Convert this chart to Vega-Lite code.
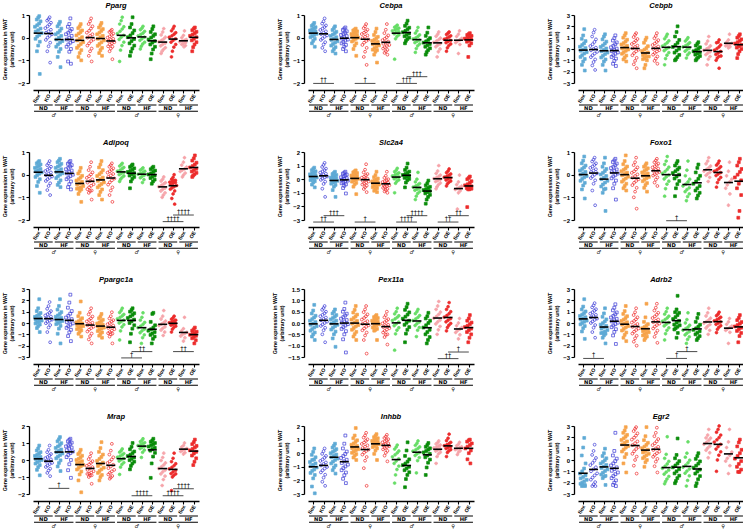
{
  "$schema": "https://vega.github.io/schema/vega-lite/v6.json",
  "background": "white",
  "padding": {"left": 2, "top": 1, "right": 2, "bottom": 0},
  "config": {
    "view": {"stroke": null},
    "font": "Liberation Sans",
    "title": {"font": "Liberation Sans", "fontSize": 7.5, "fontStyle": "italic", "fontWeight": "bold", "offset": 3, "color": "#000"},
    "axis": {"grid": false, "domainColor": "#000", "tickColor": "#000", "labelColor": "#000", "titleColor": "#000", "domainWidth": 1.3, "tickWidth": 1.1, "tickSize": 3, "labelFont": "Liberation Sans", "titleFont": "Liberation Sans", "labelFontWeight": "bold", "titleFontWeight": "bold"},
    "axisX": {"offset": 7, "labelAngle": -60, "labelAlign": "right", "labelBaseline": "middle", "labelFontSize": 5.2, "labelPadding": 1, "labelOverlap": false, "labelFlush": false, "domainWidth": 1.5},
    "axisY": {"offset": 4, "labelFontSize": 6, "labelPadding": 1.5, "titleFontSize": 5.3, "titlePadding": 3, "labelOverlap": false},
    "point": {"size": 8, "strokeWidth": 0.7, "opacity": 1},
    "tick": {"orient": "horizontal", "color": "#000", "size": 9, "thickness": 1.6},
    "rule": {"color": "#5a5a5a", "strokeWidth": 1.1},
    "text": {"font": "DejaVu Sans", "fontSize": 6.5, "baseline": "bottom", "color": "#000"}
  },
  "datasets": {
    "expr": [
      {"p": "Pparg", "g": 1, "v": [0.95,0.88,0.8,0.72,0.62,0.55,0.48,0.4,0.33,0.27,0.2,0.12,0.05,-0.05,-0.18,-0.35,-0.6,-1.6]},
      {"p": "Pparg", "g": 2, "v": [0.9,0.82,0.75,0.66,0.58,0.5,0.42,0.35,0.28,0.22,0.15,0.08,0.0,-0.1,-0.22,-0.38,-0.6,-1.1]},
      {"p": "Pparg", "g": 3, "v": [0.7,0.6,0.5,0.4,0.3,0.22,0.15,0.08,0.0,-0.08,-0.15,-0.22,-0.3,-0.4,-0.5,-0.62,-0.85,-1.3]},
      {"p": "Pparg", "g": 4, "v": [0.85,0.6,0.48,0.38,0.3,0.22,0.15,0.08,0.0,-0.08,-0.15,-0.22,-0.3,-0.4,-0.5,-0.62,-1.05,-1.15]},
      {"p": "Pparg", "g": 5, "v": [0.6,0.5,0.42,0.32,0.25,0.18,0.1,0.02,-0.05,-0.12,-0.2,-0.28,-0.36,-0.45,-0.55,-0.68,-0.85,-1.0]},
      {"p": "Pparg", "g": 6, "v": [0.85,0.72,0.6,0.5,0.4,0.3,0.22,0.15,0.08,0.0,-0.08,-0.15,-0.25,-0.35,-0.48,-0.6,-0.8,-1.05]},
      {"p": "Pparg", "g": 7, "v": [0.65,0.55,0.45,0.38,0.3,0.22,0.15,0.08,0.02,-0.05,-0.12,-0.2,-0.28,-0.36,-0.45,-0.55,-0.68,-0.8]},
      {"p": "Pparg", "g": 8, "v": [0.35,0.3,0.25,0.18,0.12,0.06,0.0,-0.05,-0.1,-0.15,-0.2,-0.25,-0.3,-0.38,-0.4,-0.48,-0.6,-0.95]},
      {"p": "Pparg", "g": 9, "v": [0.9,0.75,0.6,0.48,0.38,0.28,0.18,0.1,0.02,-0.08,-0.2,-0.35,-0.55,-1.05]},
      {"p": "Pparg", "g": 10, "v": [0.9,0.6,0.45,0.32,0.2,0.1,0.02,-0.06,-0.15,-0.25,-0.35,-0.48,-0.62,-0.8]},
      {"p": "Pparg", "g": 11, "v": [0.5,0.42,0.35,0.28,0.2,0.14,0.08,0.02,-0.05,-0.12,-0.2,-0.28,-0.38,-0.5]},
      {"p": "Pparg", "g": 12, "v": [0.5,0.38,0.25,0.15,0.08,0.0,-0.08,-0.15,-0.22,-0.3,-0.4,-0.52,-0.7,-0.95]},
      {"p": "Pparg", "g": 13, "v": [0.4,0.25,0.12,0.02,-0.06,-0.12,-0.18,-0.24,-0.3,-0.36,-0.44,-0.52,-0.6,-0.7]},
      {"p": "Pparg", "g": 14, "v": [0.5,0.4,0.3,0.22,0.15,0.08,0.02,-0.05,-0.12,-0.2,-0.3,-0.42,-0.6,-0.85]},
      {"p": "Pparg", "g": 15, "v": [0.3,0.1,0.0,-0.08,-0.12,-0.15,-0.18,-0.22,-0.26,-0.3,-0.35,-0.4]},
      {"p": "Pparg", "g": 16, "v": [0.45,0.4,0.33,0.26,0.2,0.14,0.08,0.02,-0.05,-0.12,-0.2,-0.3,-0.42,-0.6]},
      {"p": "Cebpa", "g": 1, "v": [0.65,0.58,0.52,0.46,0.41,0.36,0.32,0.28,0.25,0.21,0.17,0.12,0.07,0.02,-0.05,-0.14,-0.25,-0.4]},
      {"p": "Cebpa", "g": 2, "v": [0.85,0.72,0.62,0.54,0.47,0.4,0.34,0.28,0.22,0.16,0.1,0.04,-0.03,-0.1,-0.2,-0.3,-0.45,-0.6]},
      {"p": "Cebpa", "g": 3, "v": [0.5,0.42,0.34,0.26,0.2,0.14,0.08,0.02,-0.04,-0.1,-0.16,-0.22,-0.28,-0.35,-0.42,-0.5,-0.6,-0.7]},
      {"p": "Cebpa", "g": 4, "v": [0.45,0.4,0.34,0.28,0.22,0.17,0.12,0.07,0.02,-0.03,-0.08,-0.13,-0.19,-0.25,-0.32,-0.4,-0.5,-0.6]},
      {"p": "Cebpa", "g": 5, "v": [0.4,0.36,0.32,0.28,0.24,0.2,0.16,0.12,0.08,0.04,0.0,-0.05,-0.1,-0.17,-0.25,-0.35,-0.5,-0.8]},
      {"p": "Cebpa", "g": 6, "v": [0.6,0.5,0.42,0.35,0.28,0.22,0.16,0.1,0.04,-0.02,-0.08,-0.15,-0.22,-0.32,-0.45,-0.62,-0.85,-1.2]},
      {"p": "Cebpa", "g": 7, "v": [0.4,0.25,0.12,0.04,-0.03,-0.09,-0.14,-0.19,-0.24,-0.29,-0.34,-0.4,-0.46,-0.53,-0.55,-0.62,-0.75,-1.1]},
      {"p": "Cebpa", "g": 8, "v": [0.6,0.35,0.2,0.1,0.02,-0.05,-0.11,-0.17,-0.22,-0.27,-0.32,-0.37,-0.42,-0.48,-0.54,-0.6,-0.67,-0.75]},
      {"p": "Cebpa", "g": 9, "v": [0.55,0.5,0.46,0.42,0.38,0.34,0.3,0.26,0.22,0.17,0.12,0.05,-0.05,-0.95]},
      {"p": "Cebpa", "g": 10, "v": [0.75,0.62,0.52,0.44,0.37,0.3,0.24,0.18,0.12,0.06,0.0,-0.06,-0.14,-0.25]},
      {"p": "Cebpa", "g": 11, "v": [0.45,0.3,0.2,0.12,0.05,-0.01,-0.06,-0.11,-0.16,-0.22,-0.28,-0.36,-0.48,-0.65]},
      {"p": "Cebpa", "g": 12, "v": [0.45,0.22,0.08,-0.02,-0.1,-0.16,-0.22,-0.28,-0.34,-0.4,-0.47,-0.55,-0.64,-0.75]},
      {"p": "Cebpa", "g": 13, "v": [0.25,0.15,0.06,-0.02,-0.09,-0.15,-0.21,-0.27,-0.33,-0.4,-0.5,-0.62,-0.85]},
      {"p": "Cebpa", "g": 14, "v": [0.25,0.2,0.14,0.08,0.03,-0.02,-0.07,-0.12,-0.17,-0.22,-0.28,-0.35,-0.45,-0.6]},
      {"p": "Cebpa", "g": 15, "v": [0.3,0.15,0.05,-0.03,-0.1,-0.16,-0.22,-0.3,-0.7]},
      {"p": "Cebpa", "g": 16, "v": [0.2,0.16,0.12,0.08,0.04,0.0,-0.04,-0.08,-0.13,-0.18,-0.25,-0.35,-0.85]},
      {"p": "Cebpb", "g": 1, "v": [1.75,1.2,0.9,0.7,0.5,0.35,0.2,0.08,-0.05,-0.15,-0.28,-0.4,-0.55,-0.7,-0.88,-1.1,-1.4,-1.9]},
      {"p": "Cebpb", "g": 2, "v": [1.7,1.45,1.1,0.85,0.62,0.42,0.26,0.12,0.0,-0.12,-0.25,-0.4,-0.55,-0.72,-0.92,-1.15,-1.45,-1.85]},
      {"p": "Cebpb", "g": 3, "v": [1.3,1.1,0.85,0.65,0.48,0.32,0.18,0.05,-0.08,-0.2,-0.32,-0.45,-0.6,-0.75,-0.92,-1.1,-1.4,-1.9]},
      {"p": "Cebpb", "g": 4, "v": [1.2,0.95,0.75,0.58,0.42,0.28,0.15,0.03,-0.08,-0.18,-0.3,-0.42,-0.55,-0.7,-0.85,-1.05,-1.3,-1.5]},
      {"p": "Cebpb", "g": 5, "v": [1.4,1.2,1.0,0.82,0.66,0.52,0.4,0.28,0.16,0.05,-0.05,-0.16,-0.28,-0.42,-0.58,-0.75,-0.92,-1.1]},
      {"p": "Cebpb", "g": 6, "v": [1.4,1.25,1.05,0.88,0.72,0.58,0.44,0.3,0.18,0.06,-0.06,-0.2,-0.36,-0.55,-0.78,-1.05,-1.35,-1.7]},
      {"p": "Cebpb", "g": 7, "v": [1.0,0.8,0.55,0.25,0.08,-0.06,-0.18,-0.3,-0.42,-0.54,-0.66,-0.7,-0.8,-0.9,-1.0,-1.4,-1.7]},
      {"p": "Cebpb", "g": 8, "v": [1.4,1.15,0.95,0.78,0.62,0.48,0.35,0.22,0.1,0.0,-0.1,-0.22,-0.35,-0.5,-0.66,-0.85,-1.05,-1.3]},
      {"p": "Cebpb", "g": 9, "v": [1.3,1.1,0.9,0.72,0.55,0.4,0.26,0.12,0.0,-0.15,-0.32,-0.55,-0.85,-1.4]},
      {"p": "Cebpb", "g": 10, "v": [2.0,1.5,1.1,0.8,0.55,0.35,0.18,0.02,-0.14,-0.32,-0.52,-0.72,-0.9,-1.0]},
      {"p": "Cebpb", "g": 11, "v": [1.0,0.85,0.7,0.55,0.42,0.3,0.18,0.06,-0.06,-0.2,-0.35,-0.52,-0.8]},
      {"p": "Cebpb", "g": 12, "v": [0.6,0.45,0.3,0.15,0.02,-0.1,-0.2,-0.3,-0.4,-0.5,-0.62,-0.75,-0.88,-1.0]},
      {"p": "Cebpb", "g": 13, "v": [1.1,0.7,0.45,0.28,0.12,0.0,-0.12,-0.24,-0.36,-0.5,-0.66,-0.9,-1.4]},
      {"p": "Cebpb", "g": 14, "v": [0.8,0.6,0.55,0.35,0.18,0.04,-0.1,-0.22,-0.35,-0.48,-0.62,-0.65,-0.8,-1.0,-1.7]},
      {"p": "Cebpb", "g": 15, "v": [1.3,0.8,0.6,0.5,0.42,0.35,0.28,0.2,0.1]},
      {"p": "Cebpb", "g": 16, "v": [1.3,1.15,1.0,0.85,0.72,0.6,0.48,0.36,0.24,0.12,0.0,-0.2,-0.45,-0.8]},
      {"p": "Adipoq", "g": 1, "v": [0.6,0.55,0.5,0.45,0.4,0.35,0.3,0.25,0.2,0.15,0.1,0.04,-0.02,-0.1,-0.2,-0.32,-0.5,-0.8]},
      {"p": "Adipoq", "g": 2, "v": [0.6,0.5,0.42,0.35,0.28,0.22,0.16,0.1,0.04,-0.02,-0.08,-0.14,-0.2,-0.28,-0.38,-0.5,-0.68,-0.9]},
      {"p": "Adipoq", "g": 3, "v": [0.7,0.62,0.55,0.48,0.42,0.36,0.3,0.24,0.18,0.12,0.06,0.0,-0.07,-0.15,-0.25,-0.35,-0.45,-0.55]},
      {"p": "Adipoq", "g": 4, "v": [0.6,0.55,0.48,0.42,0.36,0.3,0.24,0.18,0.12,0.06,0.0,-0.06,-0.13,-0.2,-0.3,-0.42,-0.55,-0.65]},
      {"p": "Adipoq", "g": 5, "v": [0.3,0.15,0.05,-0.05,-0.13,-0.2,-0.26,-0.32,-0.38,-0.44,-0.5,-0.56,-0.62,-0.6,-0.65,-0.72,-0.85,-1.2]},
      {"p": "Adipoq", "g": 6, "v": [0.55,0.35,0.2,0.1,0.01,-0.07,-0.14,-0.21,-0.28,-0.35,-0.42,-0.49,-0.56,-0.64,-0.72,-0.7,-0.8,-1.1]},
      {"p": "Adipoq", "g": 7, "v": [0.6,0.45,0.32,0.2,0.1,0.02,-0.06,-0.13,-0.2,-0.27,-0.34,-0.41,-0.48,-0.56,-0.65,-0.76,-0.9,-1.1]},
      {"p": "Adipoq", "g": 8, "v": [0.5,0.42,0.35,0.28,0.21,0.15,0.09,0.03,-0.03,-0.1,-0.17,-0.25,-0.34,-0.44,-0.56,-0.7,-0.9,-1.2]},
      {"p": "Adipoq", "g": 9, "v": [0.5,0.44,0.38,0.32,0.26,0.2,0.15,0.1,0.05,0.0,-0.06,-0.13,-0.2,-0.3]},
      {"p": "Adipoq", "g": 10, "v": [0.45,0.4,0.34,0.28,0.22,0.17,0.12,0.07,0.02,-0.04,-0.1,-0.18,-0.3,-0.6]},
      {"p": "Adipoq", "g": 11, "v": [0.3,0.25,0.2,0.15,0.1,0.06,0.02,-0.03,-0.08,-0.14,-0.22,-0.35]},
      {"p": "Adipoq", "g": 12, "v": [0.35,0.3,0.24,0.18,0.12,0.06,0.01,-0.04,-0.09,-0.15,-0.22,-0.3,-0.4]},
      {"p": "Adipoq", "g": 13, "v": [-0.1,-0.2,-0.28,-0.35,-0.41,-0.47,-0.53,-0.59,-0.65,-0.72,-0.8,-0.9,-1.0]},
      {"p": "Adipoq", "g": 14, "v": [0.0,-0.12,-0.2,-0.25,-0.27,-0.3,-0.33,-0.35,-0.38,-0.43,-0.48,-0.53,-0.58,-0.64,-0.72,-0.85,-1.05,-1.3]},
      {"p": "Adipoq", "g": 15, "v": [0.75,0.55,0.42,0.33,0.26,0.2,0.14,0.07,-0.02,-0.1]},
      {"p": "Adipoq", "g": 16, "v": [0.85,0.72,0.62,0.53,0.45,0.38,0.32,0.26,0.2,0.14,0.08,0.02,-0.04,-0.1]},
      {"p": "Slc2a4", "g": 1, "v": [0.85,0.75,0.66,0.58,0.5,0.43,0.36,0.3,0.24,0.18,0.12,0.06,0.0,-0.07,-0.15,-0.25,-0.4,-0.6]},
      {"p": "Slc2a4", "g": 2, "v": [1.2,1.05,0.9,0.78,0.67,0.58,0.49,0.41,0.34,0.27,0.2,0.13,0.05,-0.05,-0.18,-0.35,-0.7,-1.3]},
      {"p": "Slc2a4", "g": 3, "v": [0.55,0.46,0.38,0.31,0.24,0.18,0.12,0.06,0.0,-0.06,-0.12,-0.18,-0.25,-0.33,-0.42,-0.55,-0.8,-1.3]},
      {"p": "Slc2a4", "g": 4, "v": [0.55,0.48,0.41,0.34,0.27,0.2,0.14,0.08,0.02,-0.04,-0.1,-0.16,-0.23,-0.3,-0.38,-0.48,-0.65,-1.05]},
      {"p": "Slc2a4", "g": 5, "v": [0.65,0.58,0.51,0.45,0.39,0.33,0.27,0.21,0.15,0.09,0.03,-0.03,-0.1,-0.18,-0.27,-0.38,-0.55,-1.1]},
      {"p": "Slc2a4", "g": 6, "v": [1.1,0.7,0.5,0.38,0.28,0.19,0.11,0.04,-0.03,-0.1,-0.17,-0.24,-0.31,-0.39,-0.48,-0.58,-0.72,-0.95]},
      {"p": "Slc2a4", "g": 7, "v": [0.55,0.3,0.15,0.05,-0.03,-0.1,-0.16,-0.22,-0.28,-0.34,-0.4,-0.46,-0.52,-0.59,-0.66,-0.75,-0.85,-0.95]},
      {"p": "Slc2a4", "g": 8, "v": [0.55,0.25,0.1,0.0,-0.08,-0.15,-0.21,-0.27,-0.33,-0.39,-0.45,-0.51,-0.57,-0.64,-0.72,-0.8,-0.9,-1.0]},
      {"p": "Slc2a4", "g": 9, "v": [0.8,0.65,0.55,0.46,0.38,0.31,0.24,0.17,0.1,0.03,-0.05,-0.15,-0.3,-1.0]},
      {"p": "Slc2a4", "g": 10, "v": [1.15,0.85,0.68,0.56,0.46,0.38,0.31,0.24,0.17,0.1,0.02,-0.08,-0.25,-0.6]},
      {"p": "Slc2a4", "g": 11, "v": [0.5,0.0,-0.2,-0.32,-0.42,-0.5,-0.58,-0.66,-0.74,-0.82,-0.92,-1.05,-1.25,-1.5]},
      {"p": "Slc2a4", "g": 12, "v": [-0.1,-0.3,-0.45,-0.56,-0.65,-0.73,-0.8,-0.87,-0.95,-1.04,-1.15,-1.3,-1.5,-1.8]},
      {"p": "Slc2a4", "g": 13, "v": [1.0,0.6,0.42,0.3,0.2,0.12,0.05,-0.02,-0.1,-0.18,-0.28,-0.4,-0.55,-0.7]},
      {"p": "Slc2a4", "g": 14, "v": [0.75,0.6,0.48,0.38,0.3,0.22,0.15,0.08,0.01,-0.06,-0.14,-0.23,-0.34,-0.5]},
      {"p": "Slc2a4", "g": 15, "v": [0.3,-0.2,-0.4,-0.52,-0.6,-0.68,-0.76,-0.85,-1.0,-2.2]},
      {"p": "Slc2a4", "g": 16, "v": [0.2,0.1,0.0,-0.15,-0.27,-0.37,-0.45,-0.52,-0.59,-0.66,-0.7,-0.74,-0.75,-2.05]},
      {"p": "Foxo1", "g": 1, "v": [0.8,0.62,0.5,0.4,0.32,0.25,0.18,0.12,0.06,0.0,-0.06,-0.12,-0.19,-0.27,-0.36,-0.48,-0.65,-1.05]},
      {"p": "Foxo1", "g": 2, "v": [0.75,0.66,0.58,0.5,0.43,0.36,0.3,0.24,0.18,0.12,0.06,0.0,-0.07,-0.15,-0.25,-0.4,-0.7,-1.35]},
      {"p": "Foxo1", "g": 3, "v": [0.75,0.5,0.35,0.25,0.16,0.08,0.01,-0.06,-0.13,-0.2,-0.27,-0.35,-0.43,-0.52,-0.62,-0.65,-0.8,-1.6]},
      {"p": "Foxo1", "g": 4, "v": [0.7,0.63,0.56,0.49,0.42,0.35,0.29,0.23,0.17,0.11,0.05,-0.01,-0.08,-0.16,-0.26,-0.4,-0.6,-1.1]},
      {"p": "Foxo1", "g": 5, "v": [0.85,0.6,0.46,0.36,0.28,0.21,0.15,0.09,0.03,-0.03,-0.09,-0.16,-0.23,-0.31,-0.4,-0.5,-0.6,-0.7]},
      {"p": "Foxo1", "g": 6, "v": [0.75,0.55,0.42,0.32,0.23,0.15,0.08,0.01,-0.06,-0.13,-0.2,-0.28,-0.36,-0.46,-0.58,-0.75,-1.0,-1.5]},
      {"p": "Foxo1", "g": 7, "v": [0.5,0.42,0.35,0.28,0.22,0.16,0.1,0.05,0.0,-0.05,-0.1,-0.16,-0.22,-0.29,-0.37,-0.46,-0.58,-0.75]},
      {"p": "Foxo1", "g": 8, "v": [0.7,0.62,0.55,0.49,0.43,0.37,0.32,0.27,0.22,0.17,0.12,0.07,0.02,-0.04,-0.12,-0.22,-0.35,-0.5]},
      {"p": "Foxo1", "g": 9, "v": [0.8,0.6,0.45,0.33,0.23,0.14,0.06,-0.02,-0.1,-0.19,-0.29,-0.42,-0.62,-0.95]},
      {"p": "Foxo1", "g": 10, "v": [0.6,0.5,0.4,0.31,0.23,0.15,0.07,0.0,-0.08,-0.17,-0.28,-0.42,-0.6,-0.95]},
      {"p": "Foxo1", "g": 11, "v": [0.6,0.2,-0.05,-0.2,-0.32,-0.42,-0.5,-0.58,-0.66,-0.75,-0.85,-0.97,-1.15]},
      {"p": "Foxo1", "g": 12, "v": [0.45,0.3,0.1,-0.05,-0.18,-0.3,-0.4,-0.5,-0.6,-0.7,-0.8,-0.92,-1.05]},
      {"p": "Foxo1", "g": 13, "v": [0.75,0.6,0.48,0.38,0.3,0.23,0.16,0.1,0.04,-0.03,-0.12,-0.3]},
      {"p": "Foxo1", "g": 14, "v": [0.6,0.5,0.42,0.35,0.28,0.21,0.15,0.09,0.03,-0.04,-0.12,-0.22,-0.35,-0.55]},
      {"p": "Foxo1", "g": 15, "v": [0.55,0.15,-0.05,-0.2,-0.32,-0.45,-0.6,-0.85,-1.35]},
      {"p": "Foxo1", "g": 16, "v": [0.7,0.55,0.4,0.25,0.12,0.0,-0.12,-0.25,-0.4,-0.6,-0.9,-1.6,-1.9]},
      {"p": "Ppargc1a", "g": 1, "v": [2.1,1.3,1.05,0.88,0.75,0.64,0.54,0.45,0.37,0.29,0.21,0.13,0.05,-0.04,-0.14,-0.27,-0.45,-0.8]},
      {"p": "Ppargc1a", "g": 2, "v": [1.85,1.5,1.25,1.05,0.9,0.78,0.67,0.57,0.48,0.39,0.3,0.2,0.1,-0.02,-0.18,-0.4,-0.8,-1.7]},
      {"p": "Ppargc1a", "g": 3, "v": [2.1,1.5,1.18,0.96,0.8,0.67,0.55,0.45,0.36,0.27,0.18,0.09,0.0,-0.1,-0.25,-0.5,-0.95,-1.8]},
      {"p": "Ppargc1a", "g": 4, "v": [2.5,1.8,1.35,1.05,0.82,0.64,0.48,0.34,0.21,0.09,-0.03,-0.15,-0.28,-0.43,-0.6,-0.82,-1.15,-1.6]},
      {"p": "Ppargc1a", "g": 5, "v": [1.9,0.9,0.6,0.42,0.28,0.16,0.06,-0.03,-0.11,-0.19,-0.27,-0.35,-0.44,-0.54,-0.65,-0.78,-0.95,-1.2]},
      {"p": "Ppargc1a", "g": 6, "v": [1.3,1.0,0.76,0.57,0.41,0.27,0.14,0.02,-0.09,-0.2,-0.32,-0.45,-0.59,-0.75,-0.93,-1.15,-1.45,-1.8]},
      {"p": "Ppargc1a", "g": 7, "v": [0.8,0.58,0.42,0.28,0.16,0.05,-0.05,-0.14,-0.23,-0.32,-0.41,-0.5,-0.6,-0.71,-0.83,-0.97,-1.12,-1.3]},
      {"p": "Ppargc1a", "g": 8, "v": [0.95,0.6,0.4,0.25,0.12,0.0,-0.11,-0.22,-0.33,-0.44,-0.55,-0.67,-0.8,-0.94,-0.9,-1.0,-1.2,-1.8]},
      {"p": "Ppargc1a", "g": 9, "v": [1.3,1.1,0.92,0.76,0.62,0.49,0.37,0.25,0.13,0.0,-0.15,-0.35,-0.7,-1.5]},
      {"p": "Ppargc1a", "g": 10, "v": [1.3,1.15,1.0,0.86,0.72,0.58,0.44,0.3,0.15,0.0,-0.2,-0.5,-0.95,-1.7]},
      {"p": "Ppargc1a", "g": 11, "v": [0.9,0.5,0.25,0.05,-0.12,-0.27,-0.41,-0.55,-0.7,-0.86,-1.05,-1.3,-1.8]},
      {"p": "Ppargc1a", "g": 12, "v": [0.9,0.8,0.1,-0.2,-0.4,-0.55,-0.68,-0.8,-0.92,-1.05,-1.2,-1.4,-1.8]},
      {"p": "Ppargc1a", "g": 13, "v": [1.1,0.6,0.35,0.17,0.03,-0.1,-0.22,-0.34,-0.47,-0.62,-0.8,-1.1]},
      {"p": "Ppargc1a", "g": 14, "v": [0.6,0.45,0.34,0.25,0.17,0.1,0.03,-0.04,-0.11,-0.19,-0.28,-0.39,-0.55,-0.8]},
      {"p": "Ppargc1a", "g": 15, "v": [0.5,-0.5,-0.7,-0.82,-0.92,-1.02,-1.15,-1.3,-1.6]},
      {"p": "Ppargc1a", "g": 16, "v": [-0.4,-0.55,-0.67,-0.77,-0.86,-0.95,-1.04,-1.13,-1.23,-1.35,-1.52,-1.8]},
      {"p": "Pex11a", "g": 1, "v": [0.8,0.55,0.42,0.32,0.24,0.17,0.1,0.04,-0.02,-0.08,-0.14,-0.2,-0.27,-0.34,-0.42,-0.5,-0.6,-0.75]},
      {"p": "Pex11a", "g": 2, "v": [0.75,0.66,0.58,0.5,0.43,0.36,0.3,0.24,0.18,0.12,0.06,0.0,-0.06,-0.13,-0.21,-0.32,-0.5,-0.85]},
      {"p": "Pex11a", "g": 3, "v": [0.6,0.5,0.42,0.35,0.28,0.22,0.16,0.1,0.04,-0.02,-0.08,-0.14,-0.21,-0.29,-0.38,-0.5,-0.68,-1.05]},
      {"p": "Pex11a", "g": 4, "v": [0.9,0.62,0.5,0.41,0.33,0.26,0.19,0.13,0.07,0.01,-0.05,-0.11,-0.18,-0.26,-0.36,-0.5,-0.72,-1.3]},
      {"p": "Pex11a", "g": 5, "v": [0.75,0.58,0.46,0.37,0.29,0.22,0.15,0.09,0.03,-0.03,-0.09,-0.15,-0.22,-0.3,-0.39,-0.49,-0.6,-0.75]},
      {"p": "Pex11a", "g": 6, "v": [0.75,0.6,0.48,0.38,0.3,0.22,0.15,0.08,0.02,-0.04,-0.1,-0.17,-0.24,-0.32,-0.42,-0.55,-0.75,-1.35]},
      {"p": "Pex11a", "g": 7, "v": [0.35,0.3,0.26,0.22,0.18,0.14,0.1,0.06,0.02,-0.02,-0.06,-0.1,-0.15,-0.2,-0.26,-0.3,-0.34,-0.75]},
      {"p": "Pex11a", "g": 8, "v": [0.5,0.35,0.25,0.17,0.1,0.04,-0.02,-0.08,-0.13,-0.18,-0.23,-0.29,-0.35,-0.42,-0.5,-0.52,-0.62,-0.95]},
      {"p": "Pex11a", "g": 9, "v": [0.65,0.5,0.4,0.32,0.25,0.18,0.11,0.04,-0.04,-0.12,-0.21,-0.32,-0.48,-1.2]},
      {"p": "Pex11a", "g": 10, "v": [0.85,0.7,0.58,0.47,0.37,0.28,0.19,0.1,0.01,-0.08,-0.18,-0.3,-0.47,-0.85]},
      {"p": "Pex11a", "g": 11, "v": [0.6,0.5,0.41,0.33,0.25,0.18,0.11,0.04,-0.03,-0.11,-0.2,-0.32,-0.6]},
      {"p": "Pex11a", "g": 12, "v": [0.45,0.3,0.2,0.1,0.0,-0.1,-0.2,-0.3,-0.4,-0.5,-0.62,-0.75,-0.9]},
      {"p": "Pex11a", "g": 13, "v": [0.95,0.75,0.6,0.48,0.38,0.29,0.21,0.13,0.05,-0.04,-0.15,-0.3,-0.5]},
      {"p": "Pex11a", "g": 14, "v": [0.9,0.72,0.6,0.5,0.41,0.33,0.26,0.19,0.12,0.05,-0.02,-0.1,-0.2,-0.35]},
      {"p": "Pex11a", "g": 15, "v": [0.2,0.0,-0.12,-0.2,-0.27,-0.34,-0.42,-0.52,-0.7]},
      {"p": "Pex11a", "g": 16, "v": [0.35,0.2,0.1,0.02,-0.05,-0.12,-0.18,-0.25,-0.32,-0.4,-0.5,-0.65,-0.85]},
      {"p": "Adrb2", "g": 1, "v": [2.1,1.45,1.2,1.02,0.87,0.74,0.62,0.51,0.41,0.31,0.21,0.11,0.0,-0.12,-0.27,-0.46,-0.75,-1.4]},
      {"p": "Adrb2", "g": 2, "v": [1.75,1.55,1.38,1.22,1.08,0.95,0.83,0.72,0.61,0.5,0.39,0.27,0.14,0.0,-0.18,-0.42,-0.8,-1.3]},
      {"p": "Adrb2", "g": 3, "v": [1.3,0.85,0.55,0.32,0.14,-0.01,-0.14,-0.26,-0.38,-0.5,-0.62,-0.75,-0.89,-0.85,-0.95,-1.1,-1.3,-1.8]},
      {"p": "Adrb2", "g": 4, "v": [1.65,1.35,1.12,0.93,0.77,0.62,0.49,0.37,0.25,0.14,0.03,-0.09,-0.22,-0.37,-0.55,-0.78,-1.1,-1.85]},
      {"p": "Adrb2", "g": 5, "v": [1.5,1.05,0.8,0.6,0.44,0.3,0.18,0.07,-0.04,-0.15,-0.27,-0.39,-0.52,-0.67,-0.84,-1.05,-1.3,-1.6]},
      {"p": "Adrb2", "g": 6, "v": [1.3,0.95,0.7,0.5,0.33,0.18,0.04,-0.09,-0.22,-0.35,-0.48,-0.62,-0.77,-0.93,-1.12,-1.35,-1.65,-2.0]},
      {"p": "Adrb2", "g": 7, "v": [1.7,0.5,0.1,-0.1,-0.24,-0.36,-0.46,-0.55,-0.64,-0.73,-0.82,-0.91,-1.0,-1.1,-1.2,-1.32,-1.5]},
      {"p": "Adrb2", "g": 8, "v": [1.7,1.35,1.1,0.9,0.73,0.58,0.44,0.31,0.19,0.07,-0.05,-0.18,-0.32,-0.48,-0.67,-0.9,-1.22,-1.75]},
      {"p": "Adrb2", "g": 9, "v": [1.3,1.0,0.78,0.6,0.44,0.3,0.16,0.03,-0.11,-0.26,-0.43,-0.65,-0.95,-1.5]},
      {"p": "Adrb2", "g": 10, "v": [2.4,1.2,0.95,0.9,0.7,0.52,0.35,0.19,0.03,-0.14,-0.2,-0.33,-0.45,-0.57,-0.88,-1.3]},
      {"p": "Adrb2", "g": 11, "v": [0.9,0.3,0.0,-0.2,-0.36,-0.5,-0.63,-0.76,-0.9,-1.05,-1.22,-1.45,-1.8]},
      {"p": "Adrb2", "g": 12, "v": [0.8,0.45,0.1,-0.15,-0.32,-0.47,-0.6,-0.73,-0.86,-1.0,-1.16,-1.33,-1.5]},
      {"p": "Adrb2", "g": 13, "v": [1.3,0.9,0.62,0.42,0.26,0.12,-0.01,-0.14,-0.28,-0.44,-0.65,-1.0]},
      {"p": "Adrb2", "g": 14, "v": [0.95,0.78,0.64,0.51,0.4,0.29,0.19,0.09,-0.01,-0.12,-0.24,-0.38,-0.56,-0.85]},
      {"p": "Adrb2", "g": 15, "v": [0.4,0.1,-0.12,-0.28,-0.4,-0.52,-0.65,-0.82,-1.8]},
      {"p": "Adrb2", "g": 16, "v": [0.7,0.45,0.25,0.08,-0.06,-0.18,-0.3,-0.42,-0.55,-0.7,-0.88,-1.15,-1.7]},
      {"p": "Mrap", "g": 1, "v": [0.85,0.68,0.56,0.46,0.38,0.31,0.24,0.18,0.12,0.06,0.0,-0.06,-0.13,-0.21,-0.3,-0.42,-0.58,-0.9]},
      {"p": "Mrap", "g": 2, "v": [0.85,0.6,0.46,0.35,0.26,0.18,0.11,0.04,-0.03,-0.1,-0.17,-0.24,-0.32,-0.41,-0.51,-0.62,-0.76,-0.95]},
      {"p": "Mrap", "g": 3, "v": [1.35,1.22,1.1,0.99,0.89,0.8,0.71,0.62,0.54,0.46,0.38,0.29,0.2,0.1,-0.02,-0.18,-0.38,-0.65]},
      {"p": "Mrap", "g": 4, "v": [1.25,1.18,1.1,1.02,0.94,0.87,0.8,0.73,0.66,0.58,0.5,0.41,0.3,0.17,0.0,-0.25,-0.6,-1.05]},
      {"p": "Mrap", "g": 5, "v": [0.6,0.45,0.35,0.25,0.15,0.07,0.0,-0.07,-0.14,-0.21,-0.29,-0.37,-0.46,-0.56,-0.68,-0.85,-1.2,-1.9]},
      {"p": "Mrap", "g": 6, "v": [0.4,0.2,0.05,-0.07,-0.17,-0.26,-0.34,-0.42,-0.5,-0.58,-0.66,-0.74,-0.82,-0.91,-0.8,-0.9,-1.0,-1.4]},
      {"p": "Mrap", "g": 7, "v": [1.05,0.7,0.48,0.32,0.18,0.06,-0.05,-0.15,-0.25,-0.35,-0.45,-0.55,-0.65,-0.76,-0.88,-1.0,-1.2]},
      {"p": "Mrap", "g": 8, "v": [0.95,0.55,0.32,0.16,0.03,-0.08,-0.18,-0.28,-0.38,-0.48,-0.58,-0.67,-0.76,-0.85,-0.94,-1.02,-1.1]},
      {"p": "Mrap", "g": 9, "v": [0.65,0.55,0.46,0.38,0.3,0.23,0.16,0.09,0.02,-0.06,-0.15,-0.26,-0.42,-0.85]},
      {"p": "Mrap", "g": 10, "v": [1.0,0.78,0.63,0.5,0.4,0.31,0.23,0.15,0.07,-0.01,-0.1,-0.21,-0.35,-0.55]},
      {"p": "Mrap", "g": 11, "v": [1.25,1.15,1.08,1.02,0.96,0.9,0.85,0.8,0.74,0.67,0.58,0.45,0.15]},
      {"p": "Mrap", "g": 12, "v": [1.25,1.15,1.07,1.0,0.93,0.86,0.79,0.72,0.64,0.55,0.42,0.2,-0.2,-1.05]},
      {"p": "Mrap", "g": 13, "v": [0.4,0.15,-0.03,-0.17,-0.29,-0.4,-0.5,-0.6,-0.7,-0.82,-0.95,-1.15,-1.5]},
      {"p": "Mrap", "g": 14, "v": [0.4,0.1,-0.1,-0.22,-0.33,-0.43,-0.52,-0.61,-0.7,-0.8,-0.82,-0.9,-1.0,-1.8]},
      {"p": "Mrap", "g": 15, "v": [1.0,0.85,0.76,0.68,0.62,0.56,0.5,0.43,0.35]},
      {"p": "Mrap", "g": 16, "v": [1.2,1.05,0.93,0.83,0.74,0.65,0.57,0.48,0.38,0.26,0.1,-0.1,-0.3]},
      {"p": "Inhbb", "g": 1, "v": [0.35,0.1,-0.12,-0.3,-0.46,-0.5,-0.65,-0.75,-0.85,-0.95,-1.05,-1.2,-1.3,-1.45,-1.6,-1.85,-2.45,-2.95]},
      {"p": "Inhbb", "g": 2, "v": [0.35,0.15,-0.05,-0.2,-0.34,-0.46,-0.57,-0.68,-0.79,-0.9,-1.01,-1.13,-1.26,-1.41,-1.58,-1.8,-2.1,-2.4]},
      {"p": "Inhbb", "g": 3, "v": [0.7,0.55,0.42,0.3,0.2,0.1,0.0,-0.1,-0.2,-0.3,-0.4,-0.5,-0.62,-0.75,-0.9,-1.05,-1.25,-1.5]},
      {"p": "Inhbb", "g": 4, "v": [1.3,0.7,0.35,0.12,-0.06,-0.21,-0.35,-0.48,-0.6,-0.72,-0.84,-0.97,-1.1,-1.25,-1.42,-1.62,-1.88,-2.2]},
      {"p": "Inhbb", "g": 5, "v": [1.85,1.3,1.1,0.95,0.83,0.72,0.62,0.53,0.45,0.37,0.29,0.21,0.12,0.03,-0.07,-0.18,-0.32,-0.5]},
      {"p": "Inhbb", "g": 6, "v": [1.5,1.3,1.15,1.02,0.9,0.79,0.68,0.58,0.48,0.38,0.27,0.16,0.04,-0.1,-0.28,-0.55,-1.1,-2.4]},
      {"p": "Inhbb", "g": 7, "v": [1.4,1.28,1.18,1.1,1.03,0.96,0.9,0.84,0.78,0.72,0.66,0.6,0.53,0.45,0.35,0.2,-0.05,-0.5]},
      {"p": "Inhbb", "g": 8, "v": [1.35,1.22,1.12,1.03,0.95,0.87,0.8,0.73,0.66,0.59,0.52,0.45,0.37,0.28,0.17,0.03,-0.18,-0.6]},
      {"p": "Inhbb", "g": 9, "v": [0.6,0.45,0.3,0.16,0.02,-0.12,-0.27,-0.42,-0.58,-0.75,-0.95,-1.2,-1.6,-2.2]},
      {"p": "Inhbb", "g": 10, "v": [0.8,0.2,-0.2,-0.45,-0.62,-0.76,-0.88,-1.0,-1.12,-1.25,-1.4,-1.6,-1.9,-2.5]},
      {"p": "Inhbb", "g": 11, "v": [0.9,0.72,0.58,0.46,0.35,0.25,0.15,0.05,-0.05,-0.17,-0.32,-0.55,-1.45]},
      {"p": "Inhbb", "g": 12, "v": [0.75,0.6,0.47,0.36,0.26,0.16,0.06,-0.05,-0.17,-0.3,-0.47,-0.7,-1.05,-1.6]},
      {"p": "Inhbb", "g": 13, "v": [0.9,0.78,0.68,0.6,0.52,0.45,0.38,0.31,0.24,0.16,0.07,-0.05,-0.25,-0.75]},
      {"p": "Inhbb", "g": 14, "v": [1.4,1.1,0.92,0.8,0.7,0.62,0.55,0.48,0.41,0.34,0.26,0.17,0.05,-0.25]},
      {"p": "Inhbb", "g": 15, "v": [0.8,0.65,0.55,0.47,0.4,0.33,0.26,0.18,0.07,-0.1]},
      {"p": "Inhbb", "g": 16, "v": [1.0,0.95,0.85,0.72,0.6,0.48,0.35,0.2,0.0,-0.45,-0.75]},
      {"p": "Egr2", "g": 1, "v": [1.95,1.1,0.4,-0.3,-0.75,-1.0,-1.2,-1.35,-1.5,-1.62,-1.75,-1.88,-2.0,-2.1,-2.2,-2.25,-2.3,-2.3]},
      {"p": "Egr2", "g": 2, "v": [1.35,0.8,0.45,0.18,-0.05,-0.26,-0.45,-0.64,-0.82,-1.0,-1.18,-1.36,-1.55,-1.74,-1.95,-2.15,-2.3,-2.3]},
      {"p": "Egr2", "g": 3, "v": [1.0,0.6,0.35,0.15,-0.02,-0.17,-0.31,-0.44,-0.57,-0.7,-0.83,-0.97,-1.12,-1.28,-1.46,-1.4,-1.6,-2.2]},
      {"p": "Egr2", "g": 4, "v": [2.4,0.8,0.4,0.12,-0.1,-0.3,-0.48,-0.65,-0.8,-0.95,-1.1,-1.25,-1.42,-1.6,-1.8,-2.0,-2.2,-2.3]},
      {"p": "Egr2", "g": 5, "v": [2.9,2.6,2.4,2.22,2.06,1.91,1.77,1.64,1.51,1.38,1.24,1.09,0.93,0.75,0.53,0.25,-0.3,-1.1]},
      {"p": "Egr2", "g": 6, "v": [2.9,2.75,2.55,2.35,2.15,1.97,1.8,1.64,1.48,1.32,1.15,0.97,0.77,0.55,0.3,0.0,-0.5,-1.2]},
      {"p": "Egr2", "g": 7, "v": [2.9,2.1,1.75,1.52,1.34,1.18,1.04,0.91,0.79,0.67,0.55,0.43,0.3,0.16,0.0,-0.2,-0.6]},
      {"p": "Egr2", "g": 8, "v": [2.85,2.4,2.1,1.85,1.65,1.47,1.31,1.16,1.02,0.88,0.74,0.6,0.45,0.28,0.1,-0.15,-0.55,-1.1]},
      {"p": "Egr2", "g": 9, "v": [2.05,0.5,0.15,-0.12,-0.35,-0.55,-0.73,-0.9,-1.07,-1.25,-1.45,-1.68,-1.9,-2.1]},
      {"p": "Egr2", "g": 10, "v": [1.9,0.45,0.15,-0.1,-0.3,-0.48,-0.65,-0.82,-1.0,-1.18,-1.38,-1.6,-1.85,-2.05]},
      {"p": "Egr2", "g": 11, "v": [1.6,0.6,0.25,-0.02,-0.25,-0.45,-0.63,-0.8,-0.98,-1.17,-1.4,-1.8,-2.3]},
      {"p": "Egr2", "g": 12, "v": [0.6,0.35,0.1,-0.12,-0.32,-0.5,-0.68,-0.85,-1.02,-1.2,-1.42,-1.7,-2.05,-2.3]},
      {"p": "Egr2", "g": 13, "v": [2.7,2.2,1.95,1.93,1.74,1.56,1.39,1.22,1.05,0.86,0.64,0.2]},
      {"p": "Egr2", "g": 14, "v": [3.0,2.7,2.45,2.2,1.98,1.78,1.58,1.38,1.18,0.96,0.72,0.42,0.0,-1.0]},
      {"p": "Egr2", "g": 15, "v": [2.7,1.6,1.1,0.7,0.4,0.15,-0.1,-0.5,-1.2]},
      {"p": "Egr2", "g": 16, "v": [1.8,1.55,1.2,0.9,0.6,0.35,0.12,-0.1,-0.35,-0.6,-0.85,-1.05,-1.05]}
    ],
    "sig": [
      {"p": "Cebpa", "a": 1, "b": 3, "y": -2.02, "lab": "††"},
      {"p": "Cebpa", "a": 5, "b": 7, "y": -2.02, "lab": "†"},
      {"p": "Cebpa", "a": 9, "b": 11, "y": -2.02, "lab": "†††"},
      {"p": "Cebpa", "a": 10, "b": 12, "y": -1.72, "lab": "†††"},
      {"p": "Adipoq", "a": 13, "b": 15, "y": -2.07, "lab": "††††"},
      {"p": "Adipoq", "a": 14, "b": 16, "y": -1.78, "lab": "††††"},
      {"p": "Slc2a4", "a": 1, "b": 3, "y": -3.15, "lab": "††"},
      {"p": "Slc2a4", "a": 2, "b": 4, "y": -2.68, "lab": "†††"},
      {"p": "Slc2a4", "a": 5, "b": 7, "y": -3.15, "lab": "†"},
      {"p": "Slc2a4", "a": 9, "b": 11, "y": -3.15, "lab": "††††"},
      {"p": "Slc2a4", "a": 10, "b": 12, "y": -2.68, "lab": "††††"},
      {"p": "Slc2a4", "a": 13, "b": 15, "y": -3.15, "lab": "††"},
      {"p": "Slc2a4", "a": 14, "b": 16, "y": -2.68, "lab": "††"},
      {"p": "Foxo1", "a": 9, "b": 11, "y": -2.03, "lab": "†"},
      {"p": "Ppargc1a", "a": 9, "b": 11, "y": -3.08, "lab": "†"},
      {"p": "Ppargc1a", "a": 10, "b": 12, "y": -2.52, "lab": "††"},
      {"p": "Ppargc1a", "a": 14, "b": 16, "y": -2.52, "lab": "††"},
      {"p": "Pex11a", "a": 13, "b": 15, "y": -1.57, "lab": "††"},
      {"p": "Pex11a", "a": 14, "b": 16, "y": -1.28, "lab": "†"},
      {"p": "Adrb2", "a": 1, "b": 3, "y": -3.13, "lab": "†"},
      {"p": "Adrb2", "a": 9, "b": 11, "y": -3.13, "lab": "†"},
      {"p": "Adrb2", "a": 10, "b": 12, "y": -2.52, "lab": "†"},
      {"p": "Mrap", "a": 2, "b": 4, "y": -1.67, "lab": "†"},
      {"p": "Mrap", "a": 10, "b": 12, "y": -2.1, "lab": "††††"},
      {"p": "Mrap", "a": 13, "b": 15, "y": -2.1, "lab": "††††"},
      {"p": "Mrap", "a": 14, "b": 16, "y": -1.69, "lab": "††††"}
    ],
    "grp": [
      {"kind": "diet", "lab": "ND", "a": 1, "b": 2},
      {"kind": "diet", "lab": "HF", "a": 3, "b": 4},
      {"kind": "diet", "lab": "ND", "a": 5, "b": 6},
      {"kind": "diet", "lab": "HF", "a": 7, "b": 8},
      {"kind": "diet", "lab": "ND", "a": 9, "b": 10},
      {"kind": "diet", "lab": "HF", "a": 11, "b": 12},
      {"kind": "diet", "lab": "ND", "a": 13, "b": 14},
      {"kind": "diet", "lab": "HF", "a": 15, "b": 16},
      {"kind": "sex", "lab": "♂", "a": 1, "b": 4},
      {"kind": "sex", "lab": "♀", "a": 5, "b": 8},
      {"kind": "sex", "lab": "♂", "a": 9, "b": 12},
      {"kind": "sex", "lab": "♀", "a": 13, "b": 16}
    ]
  },
  "columns": 3,
  "spacing": {"row": 20, "column": 72},
  "concat": [
    {"spacing": 0, "vconcat": [
      {"width": 166, "height": 68, "title": {"text": "Pparg"}, "layer": [
        {"data": {"name": "expr"}, "transform": [{"filter": "datum.p == 'Pparg'"}, {"flatten": ["v"]}, {"window": [{"op": "row_number", "as": "r"}, {"op": "percent_rank", "as": "pr"}], "groupby": ["g"], "sort": [{"field": "v", "order": "descending"}]}, {"calculate": "datum.g + ((((datum.r * 5) % 7) - 3) / 3) * 0.38 * (0.4 + 0.6 * (1 - abs(2 * datum.pr - 1)))", "as": "xj"}], "mark": "point",
         "encoding": {"x": {"field": "xj", "type": "quantitative", "title": null, "scale": {"domain": [0.5, 16.5], "nice": false, "zero": false}, "axis": {"values": [1,2,3,4,5,6,7,8,9,10,11,12,13,14,15,16], "labelExpr": "datum.value % 2 == 1 ? 'flox' : (datum.value < 9 ? 'KO' : 'OE')"}},
           "y": {"field": "v", "type": "quantitative", "title": ["Gene expression in WAT", "(arbitrary unit)"], "scale": {"domain": [-2, 1], "nice": false, "zero": false}, "axis": {"values": [-2, -1, 0, 1], "format": "d"}},
           "stroke": {"field": "g", "type": "nominal", "legend": null, "scale": {"domain": [1,2,3,4,5,6,7,8,9,10,11,12,13,14,15,16], "range": ["#5FAAD5","#3A3AD6","#5FAAD5","#3A3AD6","#F6A34A","#EE2A2A","#F6A34A","#EE2A2A","#66DD66","#0A8C0A","#66DD66","#0A8C0A","#F7A5AA","#EC2B2B","#F7A5AA","#EC2B2B"]}},
           "fill": {"field": "g", "type": "nominal", "legend": null, "scale": {"domain": [1,2,3,4,5,6,7,8,9,10,11,12,13,14,15,16], "range": ["#5FAAD5","transparent","#5FAAD5","transparent","#F6A34A","transparent","#F6A34A","transparent","#66DD66","#0A8C0A","#66DD66","#0A8C0A","#F7A5AA","#EC2B2B","#F7A5AA","#EC2B2B"]}},
           "shape": {"field": "g", "type": "nominal", "legend": null, "scale": {"domain": [1,2,3,4,5,6,7,8,9,10,11,12,13,14,15,16], "range": ["square","circle","square","square","square","circle","square","circle","circle","square","circle","square","cross","circle","cross","square"]}}}},
        {"data": {"name": "expr"}, "transform": [{"filter": "datum.p == 'Pparg'"}, {"flatten": ["v"]}], "mark": "tick",
         "encoding": {"x": {"field": "g", "type": "quantitative", "title": null, "axis": {"values": [1,2,3,4,5,6,7,8,9,10,11,12,13,14,15,16], "labelExpr": "datum.value % 2 == 1 ? 'flox' : (datum.value < 9 ? 'KO' : 'OE')"}}, "y": {"field": "v", "type": "quantitative", "aggregate": "mean", "title": ["Gene expression in WAT", "(arbitrary unit)"], "axis": {"values": [-2, -1, 0, 1], "format": "d"}}}}
      ]},
      {"width": 166, "height": 12.5, "data": {"name": "grp"}, "transform": [{"calculate": "datum.a - 0.4", "as": "x1"}, {"calculate": "datum.b + 0.4", "as": "x2"}, {"calculate": "(datum.a + datum.b) / 2", "as": "xm"}], "layer": [
        {"mark": {"type": "rule", "color": "#000", "strokeWidth": 1}, "encoding": {"x": {"field": "x1", "type": "quantitative", "scale": {"domain": [0.5, 16.5], "nice": false, "zero": false}, "axis": null}, "x2": {"field": "x2"}, "y": {"field": "kind", "type": "nominal", "bandPosition": 0, "scale": {"type": "band", "domain": ["diet", "sex"], "paddingInner": 0, "paddingOuter": 0}, "axis": null}}},
        {"mark": {"type": "text", "fontSize": 5.2, "fontWeight": "bold", "baseline": "middle"}, "encoding": {"x": {"field": "xm", "type": "quantitative"}, "y": {"field": "kind", "type": "nominal", "bandPosition": 0.55}, "text": {"field": "lab"}}}
      ]}
    ]},
    {"spacing": 0, "vconcat": [
      {"width": 166, "height": 68, "title": {"text": "Cebpa"}, "layer": [
        {"data": {"name": "expr"}, "transform": [{"filter": "datum.p == 'Cebpa'"}, {"flatten": ["v"]}, {"window": [{"op": "row_number", "as": "r"}, {"op": "percent_rank", "as": "pr"}], "groupby": ["g"], "sort": [{"field": "v", "order": "descending"}]}, {"calculate": "datum.g + ((((datum.r * 5) % 7) - 3) / 3) * 0.38 * (0.4 + 0.6 * (1 - abs(2 * datum.pr - 1)))", "as": "xj"}], "mark": "point",
         "encoding": {"x": {"field": "xj", "type": "quantitative", "title": null, "scale": {"domain": [0.5, 16.5], "nice": false, "zero": false}, "axis": {"values": [1,2,3,4,5,6,7,8,9,10,11,12,13,14,15,16], "labelExpr": "datum.value % 2 == 1 ? 'flox' : (datum.value < 9 ? 'KO' : 'OE')"}},
           "y": {"field": "v", "type": "quantitative", "title": ["Gene expression in WAT", "(arbitrary unit)"], "scale": {"domain": [-2, 1], "nice": false, "zero": false}, "axis": {"values": [-2, -1, 0, 1], "format": "d"}},
           "stroke": {"field": "g", "type": "nominal", "legend": null, "scale": {"domain": [1,2,3,4,5,6,7,8,9,10,11,12,13,14,15,16], "range": ["#5FAAD5","#3A3AD6","#5FAAD5","#3A3AD6","#F6A34A","#EE2A2A","#F6A34A","#EE2A2A","#66DD66","#0A8C0A","#66DD66","#0A8C0A","#F7A5AA","#EC2B2B","#F7A5AA","#EC2B2B"]}},
           "fill": {"field": "g", "type": "nominal", "legend": null, "scale": {"domain": [1,2,3,4,5,6,7,8,9,10,11,12,13,14,15,16], "range": ["#5FAAD5","transparent","#5FAAD5","transparent","#F6A34A","transparent","#F6A34A","transparent","#66DD66","#0A8C0A","#66DD66","#0A8C0A","#F7A5AA","#EC2B2B","#F7A5AA","#EC2B2B"]}},
           "shape": {"field": "g", "type": "nominal", "legend": null, "scale": {"domain": [1,2,3,4,5,6,7,8,9,10,11,12,13,14,15,16], "range": ["square","circle","square","square","square","circle","square","circle","circle","square","circle","square","cross","circle","cross","square"]}}}},
        {"data": {"name": "expr"}, "transform": [{"filter": "datum.p == 'Cebpa'"}, {"flatten": ["v"]}], "mark": "tick",
         "encoding": {"x": {"field": "g", "type": "quantitative", "title": null, "axis": {"values": [1,2,3,4,5,6,7,8,9,10,11,12,13,14,15,16], "labelExpr": "datum.value % 2 == 1 ? 'flox' : (datum.value < 9 ? 'KO' : 'OE')"}}, "y": {"field": "v", "type": "quantitative", "aggregate": "mean", "title": ["Gene expression in WAT", "(arbitrary unit)"], "axis": {"values": [-2, -1, 0, 1], "format": "d"}}}},
        {"data": {"name": "sig"}, "transform": [{"filter": "datum.p == 'Cebpa'"}], "mark": "rule",
         "encoding": {"x": {"field": "a", "type": "quantitative", "title": null, "axis": {"values": [1,2,3,4,5,6,7,8,9,10,11,12,13,14,15,16], "labelExpr": "datum.value % 2 == 1 ? 'flox' : (datum.value < 9 ? 'KO' : 'OE')"}}, "x2": {"field": "b"}, "y": {"field": "y", "type": "quantitative", "title": ["Gene expression in WAT", "(arbitrary unit)"], "axis": {"values": [-2, -1, 0, 1], "format": "d"}}}},
        {"data": {"name": "sig"}, "transform": [{"filter": "datum.p == 'Cebpa'"}, {"calculate": "(datum.a + datum.b) / 2", "as": "xm"}], "mark": "text",
         "encoding": {"x": {"field": "xm", "type": "quantitative", "title": null, "axis": {"values": [1,2,3,4,5,6,7,8,9,10,11,12,13,14,15,16], "labelExpr": "datum.value % 2 == 1 ? 'flox' : (datum.value < 9 ? 'KO' : 'OE')"}}, "y": {"field": "y", "type": "quantitative", "title": ["Gene expression in WAT", "(arbitrary unit)"], "axis": {"values": [-2, -1, 0, 1], "format": "d"}}, "text": {"field": "lab"}}}
      ]},
      {"width": 166, "height": 12.5, "data": {"name": "grp"}, "transform": [{"calculate": "datum.a - 0.4", "as": "x1"}, {"calculate": "datum.b + 0.4", "as": "x2"}, {"calculate": "(datum.a + datum.b) / 2", "as": "xm"}], "layer": [
        {"mark": {"type": "rule", "color": "#000", "strokeWidth": 1}, "encoding": {"x": {"field": "x1", "type": "quantitative", "scale": {"domain": [0.5, 16.5], "nice": false, "zero": false}, "axis": null}, "x2": {"field": "x2"}, "y": {"field": "kind", "type": "nominal", "bandPosition": 0, "scale": {"type": "band", "domain": ["diet", "sex"], "paddingInner": 0, "paddingOuter": 0}, "axis": null}}},
        {"mark": {"type": "text", "fontSize": 5.2, "fontWeight": "bold", "baseline": "middle"}, "encoding": {"x": {"field": "xm", "type": "quantitative"}, "y": {"field": "kind", "type": "nominal", "bandPosition": 0.55}, "text": {"field": "lab"}}}
      ]}
    ]},
    {"spacing": 0, "vconcat": [
      {"width": 166, "height": 68, "title": {"text": "Cebpb"}, "layer": [
        {"data": {"name": "expr"}, "transform": [{"filter": "datum.p == 'Cebpb'"}, {"flatten": ["v"]}, {"window": [{"op": "row_number", "as": "r"}, {"op": "percent_rank", "as": "pr"}], "groupby": ["g"], "sort": [{"field": "v", "order": "descending"}]}, {"calculate": "datum.g + ((((datum.r * 5) % 7) - 3) / 3) * 0.38 * (0.4 + 0.6 * (1 - abs(2 * datum.pr - 1)))", "as": "xj"}], "mark": "point",
         "encoding": {"x": {"field": "xj", "type": "quantitative", "title": null, "scale": {"domain": [0.5, 16.5], "nice": false, "zero": false}, "axis": {"values": [1,2,3,4,5,6,7,8,9,10,11,12,13,14,15,16], "labelExpr": "datum.value % 2 == 1 ? 'flox' : (datum.value < 9 ? 'KO' : 'OE')"}},
           "y": {"field": "v", "type": "quantitative", "title": ["Gene expression in WAT", "(arbitrary unit)"], "scale": {"domain": [-3, 3], "nice": false, "zero": false}, "axis": {"values": [-3, -2, -1, 0, 1, 2, 3], "format": "d"}},
           "stroke": {"field": "g", "type": "nominal", "legend": null, "scale": {"domain": [1,2,3,4,5,6,7,8,9,10,11,12,13,14,15,16], "range": ["#5FAAD5","#3A3AD6","#5FAAD5","#3A3AD6","#F6A34A","#EE2A2A","#F6A34A","#EE2A2A","#66DD66","#0A8C0A","#66DD66","#0A8C0A","#F7A5AA","#EC2B2B","#F7A5AA","#EC2B2B"]}},
           "fill": {"field": "g", "type": "nominal", "legend": null, "scale": {"domain": [1,2,3,4,5,6,7,8,9,10,11,12,13,14,15,16], "range": ["#5FAAD5","transparent","#5FAAD5","transparent","#F6A34A","transparent","#F6A34A","transparent","#66DD66","#0A8C0A","#66DD66","#0A8C0A","#F7A5AA","#EC2B2B","#F7A5AA","#EC2B2B"]}},
           "shape": {"field": "g", "type": "nominal", "legend": null, "scale": {"domain": [1,2,3,4,5,6,7,8,9,10,11,12,13,14,15,16], "range": ["square","circle","square","square","square","circle","square","circle","circle","square","circle","square","cross","circle","cross","square"]}}}},
        {"data": {"name": "expr"}, "transform": [{"filter": "datum.p == 'Cebpb'"}, {"flatten": ["v"]}], "mark": "tick",
         "encoding": {"x": {"field": "g", "type": "quantitative", "title": null, "axis": {"values": [1,2,3,4,5,6,7,8,9,10,11,12,13,14,15,16], "labelExpr": "datum.value % 2 == 1 ? 'flox' : (datum.value < 9 ? 'KO' : 'OE')"}}, "y": {"field": "v", "type": "quantitative", "aggregate": "mean", "title": ["Gene expression in WAT", "(arbitrary unit)"], "axis": {"values": [-3, -2, -1, 0, 1, 2, 3], "format": "d"}}}}
      ]},
      {"width": 166, "height": 12.5, "data": {"name": "grp"}, "transform": [{"calculate": "datum.a - 0.4", "as": "x1"}, {"calculate": "datum.b + 0.4", "as": "x2"}, {"calculate": "(datum.a + datum.b) / 2", "as": "xm"}], "layer": [
        {"mark": {"type": "rule", "color": "#000", "strokeWidth": 1}, "encoding": {"x": {"field": "x1", "type": "quantitative", "scale": {"domain": [0.5, 16.5], "nice": false, "zero": false}, "axis": null}, "x2": {"field": "x2"}, "y": {"field": "kind", "type": "nominal", "bandPosition": 0, "scale": {"type": "band", "domain": ["diet", "sex"], "paddingInner": 0, "paddingOuter": 0}, "axis": null}}},
        {"mark": {"type": "text", "fontSize": 5.2, "fontWeight": "bold", "baseline": "middle"}, "encoding": {"x": {"field": "xm", "type": "quantitative"}, "y": {"field": "kind", "type": "nominal", "bandPosition": 0.55}, "text": {"field": "lab"}}}
      ]}
    ]},
    {"spacing": 0, "vconcat": [
      {"width": 166, "height": 68, "title": {"text": "Adipoq"}, "layer": [
        {"data": {"name": "expr"}, "transform": [{"filter": "datum.p == 'Adipoq'"}, {"flatten": ["v"]}, {"window": [{"op": "row_number", "as": "r"}, {"op": "percent_rank", "as": "pr"}], "groupby": ["g"], "sort": [{"field": "v", "order": "descending"}]}, {"calculate": "datum.g + ((((datum.r * 5) % 7) - 3) / 3) * 0.38 * (0.4 + 0.6 * (1 - abs(2 * datum.pr - 1)))", "as": "xj"}], "mark": "point",
         "encoding": {"x": {"field": "xj", "type": "quantitative", "title": null, "scale": {"domain": [0.5, 16.5], "nice": false, "zero": false}, "axis": {"values": [1,2,3,4,5,6,7,8,9,10,11,12,13,14,15,16], "labelExpr": "datum.value % 2 == 1 ? 'flox' : (datum.value < 9 ? 'KO' : 'OE')"}},
           "y": {"field": "v", "type": "quantitative", "title": ["Gene expression in WAT", "(arbitrary unit)"], "scale": {"domain": [-2, 1], "nice": false, "zero": false}, "axis": {"values": [-2, -1, 0, 1], "format": "d"}},
           "stroke": {"field": "g", "type": "nominal", "legend": null, "scale": {"domain": [1,2,3,4,5,6,7,8,9,10,11,12,13,14,15,16], "range": ["#5FAAD5","#3A3AD6","#5FAAD5","#3A3AD6","#F6A34A","#EE2A2A","#F6A34A","#EE2A2A","#66DD66","#0A8C0A","#66DD66","#0A8C0A","#F7A5AA","#EC2B2B","#F7A5AA","#EC2B2B"]}},
           "fill": {"field": "g", "type": "nominal", "legend": null, "scale": {"domain": [1,2,3,4,5,6,7,8,9,10,11,12,13,14,15,16], "range": ["#5FAAD5","transparent","#5FAAD5","transparent","#F6A34A","transparent","#F6A34A","transparent","#66DD66","#0A8C0A","#66DD66","#0A8C0A","#F7A5AA","#EC2B2B","#F7A5AA","#EC2B2B"]}},
           "shape": {"field": "g", "type": "nominal", "legend": null, "scale": {"domain": [1,2,3,4,5,6,7,8,9,10,11,12,13,14,15,16], "range": ["square","circle","square","square","square","circle","square","circle","circle","square","circle","square","cross","circle","cross","square"]}}}},
        {"data": {"name": "expr"}, "transform": [{"filter": "datum.p == 'Adipoq'"}, {"flatten": ["v"]}], "mark": "tick",
         "encoding": {"x": {"field": "g", "type": "quantitative", "title": null, "axis": {"values": [1,2,3,4,5,6,7,8,9,10,11,12,13,14,15,16], "labelExpr": "datum.value % 2 == 1 ? 'flox' : (datum.value < 9 ? 'KO' : 'OE')"}}, "y": {"field": "v", "type": "quantitative", "aggregate": "mean", "title": ["Gene expression in WAT", "(arbitrary unit)"], "axis": {"values": [-2, -1, 0, 1], "format": "d"}}}},
        {"data": {"name": "sig"}, "transform": [{"filter": "datum.p == 'Adipoq'"}], "mark": "rule",
         "encoding": {"x": {"field": "a", "type": "quantitative", "title": null, "axis": {"values": [1,2,3,4,5,6,7,8,9,10,11,12,13,14,15,16], "labelExpr": "datum.value % 2 == 1 ? 'flox' : (datum.value < 9 ? 'KO' : 'OE')"}}, "x2": {"field": "b"}, "y": {"field": "y", "type": "quantitative", "title": ["Gene expression in WAT", "(arbitrary unit)"], "axis": {"values": [-2, -1, 0, 1], "format": "d"}}}},
        {"data": {"name": "sig"}, "transform": [{"filter": "datum.p == 'Adipoq'"}, {"calculate": "(datum.a + datum.b) / 2", "as": "xm"}], "mark": "text",
         "encoding": {"x": {"field": "xm", "type": "quantitative", "title": null, "axis": {"values": [1,2,3,4,5,6,7,8,9,10,11,12,13,14,15,16], "labelExpr": "datum.value % 2 == 1 ? 'flox' : (datum.value < 9 ? 'KO' : 'OE')"}}, "y": {"field": "y", "type": "quantitative", "title": ["Gene expression in WAT", "(arbitrary unit)"], "axis": {"values": [-2, -1, 0, 1], "format": "d"}}, "text": {"field": "lab"}}}
      ]},
      {"width": 166, "height": 12.5, "data": {"name": "grp"}, "transform": [{"calculate": "datum.a - 0.4", "as": "x1"}, {"calculate": "datum.b + 0.4", "as": "x2"}, {"calculate": "(datum.a + datum.b) / 2", "as": "xm"}], "layer": [
        {"mark": {"type": "rule", "color": "#000", "strokeWidth": 1}, "encoding": {"x": {"field": "x1", "type": "quantitative", "scale": {"domain": [0.5, 16.5], "nice": false, "zero": false}, "axis": null}, "x2": {"field": "x2"}, "y": {"field": "kind", "type": "nominal", "bandPosition": 0, "scale": {"type": "band", "domain": ["diet", "sex"], "paddingInner": 0, "paddingOuter": 0}, "axis": null}}},
        {"mark": {"type": "text", "fontSize": 5.2, "fontWeight": "bold", "baseline": "middle"}, "encoding": {"x": {"field": "xm", "type": "quantitative"}, "y": {"field": "kind", "type": "nominal", "bandPosition": 0.55}, "text": {"field": "lab"}}}
      ]}
    ]},
    {"spacing": 0, "vconcat": [
      {"width": 166, "height": 68, "title": {"text": "Slc2a4"}, "layer": [
        {"data": {"name": "expr"}, "transform": [{"filter": "datum.p == 'Slc2a4'"}, {"flatten": ["v"]}, {"window": [{"op": "row_number", "as": "r"}, {"op": "percent_rank", "as": "pr"}], "groupby": ["g"], "sort": [{"field": "v", "order": "descending"}]}, {"calculate": "datum.g + ((((datum.r * 5) % 7) - 3) / 3) * 0.38 * (0.4 + 0.6 * (1 - abs(2 * datum.pr - 1)))", "as": "xj"}], "mark": "point",
         "encoding": {"x": {"field": "xj", "type": "quantitative", "title": null, "scale": {"domain": [0.5, 16.5], "nice": false, "zero": false}, "axis": {"values": [1,2,3,4,5,6,7,8,9,10,11,12,13,14,15,16], "labelExpr": "datum.value % 2 == 1 ? 'flox' : (datum.value < 9 ? 'KO' : 'OE')"}},
           "y": {"field": "v", "type": "quantitative", "title": ["Gene expression in WAT", "(arbitrary unit)"], "scale": {"domain": [-3, 2], "nice": false, "zero": false}, "axis": {"values": [-3, -2, -1, 0, 1, 2], "format": "d"}},
           "stroke": {"field": "g", "type": "nominal", "legend": null, "scale": {"domain": [1,2,3,4,5,6,7,8,9,10,11,12,13,14,15,16], "range": ["#5FAAD5","#3A3AD6","#5FAAD5","#3A3AD6","#F6A34A","#EE2A2A","#F6A34A","#EE2A2A","#66DD66","#0A8C0A","#66DD66","#0A8C0A","#F7A5AA","#EC2B2B","#F7A5AA","#EC2B2B"]}},
           "fill": {"field": "g", "type": "nominal", "legend": null, "scale": {"domain": [1,2,3,4,5,6,7,8,9,10,11,12,13,14,15,16], "range": ["#5FAAD5","transparent","#5FAAD5","transparent","#F6A34A","transparent","#F6A34A","transparent","#66DD66","#0A8C0A","#66DD66","#0A8C0A","#F7A5AA","#EC2B2B","#F7A5AA","#EC2B2B"]}},
           "shape": {"field": "g", "type": "nominal", "legend": null, "scale": {"domain": [1,2,3,4,5,6,7,8,9,10,11,12,13,14,15,16], "range": ["square","circle","square","square","square","circle","square","circle","circle","square","circle","square","cross","circle","cross","square"]}}}},
        {"data": {"name": "expr"}, "transform": [{"filter": "datum.p == 'Slc2a4'"}, {"flatten": ["v"]}], "mark": "tick",
         "encoding": {"x": {"field": "g", "type": "quantitative", "title": null, "axis": {"values": [1,2,3,4,5,6,7,8,9,10,11,12,13,14,15,16], "labelExpr": "datum.value % 2 == 1 ? 'flox' : (datum.value < 9 ? 'KO' : 'OE')"}}, "y": {"field": "v", "type": "quantitative", "aggregate": "mean", "title": ["Gene expression in WAT", "(arbitrary unit)"], "axis": {"values": [-3, -2, -1, 0, 1, 2], "format": "d"}}}},
        {"data": {"name": "sig"}, "transform": [{"filter": "datum.p == 'Slc2a4'"}], "mark": "rule",
         "encoding": {"x": {"field": "a", "type": "quantitative", "title": null, "axis": {"values": [1,2,3,4,5,6,7,8,9,10,11,12,13,14,15,16], "labelExpr": "datum.value % 2 == 1 ? 'flox' : (datum.value < 9 ? 'KO' : 'OE')"}}, "x2": {"field": "b"}, "y": {"field": "y", "type": "quantitative", "title": ["Gene expression in WAT", "(arbitrary unit)"], "axis": {"values": [-3, -2, -1, 0, 1, 2], "format": "d"}}}},
        {"data": {"name": "sig"}, "transform": [{"filter": "datum.p == 'Slc2a4'"}, {"calculate": "(datum.a + datum.b) / 2", "as": "xm"}], "mark": "text",
         "encoding": {"x": {"field": "xm", "type": "quantitative", "title": null, "axis": {"values": [1,2,3,4,5,6,7,8,9,10,11,12,13,14,15,16], "labelExpr": "datum.value % 2 == 1 ? 'flox' : (datum.value < 9 ? 'KO' : 'OE')"}}, "y": {"field": "y", "type": "quantitative", "title": ["Gene expression in WAT", "(arbitrary unit)"], "axis": {"values": [-3, -2, -1, 0, 1, 2], "format": "d"}}, "text": {"field": "lab"}}}
      ]},
      {"width": 166, "height": 12.5, "data": {"name": "grp"}, "transform": [{"calculate": "datum.a - 0.4", "as": "x1"}, {"calculate": "datum.b + 0.4", "as": "x2"}, {"calculate": "(datum.a + datum.b) / 2", "as": "xm"}], "layer": [
        {"mark": {"type": "rule", "color": "#000", "strokeWidth": 1}, "encoding": {"x": {"field": "x1", "type": "quantitative", "scale": {"domain": [0.5, 16.5], "nice": false, "zero": false}, "axis": null}, "x2": {"field": "x2"}, "y": {"field": "kind", "type": "nominal", "bandPosition": 0, "scale": {"type": "band", "domain": ["diet", "sex"], "paddingInner": 0, "paddingOuter": 0}, "axis": null}}},
        {"mark": {"type": "text", "fontSize": 5.2, "fontWeight": "bold", "baseline": "middle"}, "encoding": {"x": {"field": "xm", "type": "quantitative"}, "y": {"field": "kind", "type": "nominal", "bandPosition": 0.55}, "text": {"field": "lab"}}}
      ]}
    ]},
    {"spacing": 0, "vconcat": [
      {"width": 166, "height": 68, "title": {"text": "Foxo1"}, "layer": [
        {"data": {"name": "expr"}, "transform": [{"filter": "datum.p == 'Foxo1'"}, {"flatten": ["v"]}, {"window": [{"op": "row_number", "as": "r"}, {"op": "percent_rank", "as": "pr"}], "groupby": ["g"], "sort": [{"field": "v", "order": "descending"}]}, {"calculate": "datum.g + ((((datum.r * 5) % 7) - 3) / 3) * 0.38 * (0.4 + 0.6 * (1 - abs(2 * datum.pr - 1)))", "as": "xj"}], "mark": "point",
         "encoding": {"x": {"field": "xj", "type": "quantitative", "title": null, "scale": {"domain": [0.5, 16.5], "nice": false, "zero": false}, "axis": {"values": [1,2,3,4,5,6,7,8,9,10,11,12,13,14,15,16], "labelExpr": "datum.value % 2 == 1 ? 'flox' : (datum.value < 9 ? 'KO' : 'OE')"}},
           "y": {"field": "v", "type": "quantitative", "title": ["Gene expression in WAT", "(arbitrary unit)"], "scale": {"domain": [-2, 1], "nice": false, "zero": false}, "axis": {"values": [-2, -1, 0, 1], "format": "d"}},
           "stroke": {"field": "g", "type": "nominal", "legend": null, "scale": {"domain": [1,2,3,4,5,6,7,8,9,10,11,12,13,14,15,16], "range": ["#5FAAD5","#3A3AD6","#5FAAD5","#3A3AD6","#F6A34A","#EE2A2A","#F6A34A","#EE2A2A","#66DD66","#0A8C0A","#66DD66","#0A8C0A","#F7A5AA","#EC2B2B","#F7A5AA","#EC2B2B"]}},
           "fill": {"field": "g", "type": "nominal", "legend": null, "scale": {"domain": [1,2,3,4,5,6,7,8,9,10,11,12,13,14,15,16], "range": ["#5FAAD5","transparent","#5FAAD5","transparent","#F6A34A","transparent","#F6A34A","transparent","#66DD66","#0A8C0A","#66DD66","#0A8C0A","#F7A5AA","#EC2B2B","#F7A5AA","#EC2B2B"]}},
           "shape": {"field": "g", "type": "nominal", "legend": null, "scale": {"domain": [1,2,3,4,5,6,7,8,9,10,11,12,13,14,15,16], "range": ["square","circle","square","square","square","circle","square","circle","circle","square","circle","square","cross","circle","cross","square"]}}}},
        {"data": {"name": "expr"}, "transform": [{"filter": "datum.p == 'Foxo1'"}, {"flatten": ["v"]}], "mark": "tick",
         "encoding": {"x": {"field": "g", "type": "quantitative", "title": null, "axis": {"values": [1,2,3,4,5,6,7,8,9,10,11,12,13,14,15,16], "labelExpr": "datum.value % 2 == 1 ? 'flox' : (datum.value < 9 ? 'KO' : 'OE')"}}, "y": {"field": "v", "type": "quantitative", "aggregate": "mean", "title": ["Gene expression in WAT", "(arbitrary unit)"], "axis": {"values": [-2, -1, 0, 1], "format": "d"}}}},
        {"data": {"name": "sig"}, "transform": [{"filter": "datum.p == 'Foxo1'"}], "mark": "rule",
         "encoding": {"x": {"field": "a", "type": "quantitative", "title": null, "axis": {"values": [1,2,3,4,5,6,7,8,9,10,11,12,13,14,15,16], "labelExpr": "datum.value % 2 == 1 ? 'flox' : (datum.value < 9 ? 'KO' : 'OE')"}}, "x2": {"field": "b"}, "y": {"field": "y", "type": "quantitative", "title": ["Gene expression in WAT", "(arbitrary unit)"], "axis": {"values": [-2, -1, 0, 1], "format": "d"}}}},
        {"data": {"name": "sig"}, "transform": [{"filter": "datum.p == 'Foxo1'"}, {"calculate": "(datum.a + datum.b) / 2", "as": "xm"}], "mark": "text",
         "encoding": {"x": {"field": "xm", "type": "quantitative", "title": null, "axis": {"values": [1,2,3,4,5,6,7,8,9,10,11,12,13,14,15,16], "labelExpr": "datum.value % 2 == 1 ? 'flox' : (datum.value < 9 ? 'KO' : 'OE')"}}, "y": {"field": "y", "type": "quantitative", "title": ["Gene expression in WAT", "(arbitrary unit)"], "axis": {"values": [-2, -1, 0, 1], "format": "d"}}, "text": {"field": "lab"}}}
      ]},
      {"width": 166, "height": 12.5, "data": {"name": "grp"}, "transform": [{"calculate": "datum.a - 0.4", "as": "x1"}, {"calculate": "datum.b + 0.4", "as": "x2"}, {"calculate": "(datum.a + datum.b) / 2", "as": "xm"}], "layer": [
        {"mark": {"type": "rule", "color": "#000", "strokeWidth": 1}, "encoding": {"x": {"field": "x1", "type": "quantitative", "scale": {"domain": [0.5, 16.5], "nice": false, "zero": false}, "axis": null}, "x2": {"field": "x2"}, "y": {"field": "kind", "type": "nominal", "bandPosition": 0, "scale": {"type": "band", "domain": ["diet", "sex"], "paddingInner": 0, "paddingOuter": 0}, "axis": null}}},
        {"mark": {"type": "text", "fontSize": 5.2, "fontWeight": "bold", "baseline": "middle"}, "encoding": {"x": {"field": "xm", "type": "quantitative"}, "y": {"field": "kind", "type": "nominal", "bandPosition": 0.55}, "text": {"field": "lab"}}}
      ]}
    ]},
    {"spacing": 0, "vconcat": [
      {"width": 166, "height": 68, "title": {"text": "Ppargc1a"}, "layer": [
        {"data": {"name": "expr"}, "transform": [{"filter": "datum.p == 'Ppargc1a'"}, {"flatten": ["v"]}, {"window": [{"op": "row_number", "as": "r"}, {"op": "percent_rank", "as": "pr"}], "groupby": ["g"], "sort": [{"field": "v", "order": "descending"}]}, {"calculate": "datum.g + ((((datum.r * 5) % 7) - 3) / 3) * 0.38 * (0.4 + 0.6 * (1 - abs(2 * datum.pr - 1)))", "as": "xj"}], "mark": "point",
         "encoding": {"x": {"field": "xj", "type": "quantitative", "title": null, "scale": {"domain": [0.5, 16.5], "nice": false, "zero": false}, "axis": {"values": [1,2,3,4,5,6,7,8,9,10,11,12,13,14,15,16], "labelExpr": "datum.value % 2 == 1 ? 'flox' : (datum.value < 9 ? 'KO' : 'OE')"}},
           "y": {"field": "v", "type": "quantitative", "title": ["Gene expression in WAT", "(arbitrary unit)"], "scale": {"domain": [-3, 3], "nice": false, "zero": false}, "axis": {"values": [-3, -2, -1, 0, 1, 2, 3], "format": "d"}},
           "stroke": {"field": "g", "type": "nominal", "legend": null, "scale": {"domain": [1,2,3,4,5,6,7,8,9,10,11,12,13,14,15,16], "range": ["#5FAAD5","#3A3AD6","#5FAAD5","#3A3AD6","#F6A34A","#EE2A2A","#F6A34A","#EE2A2A","#66DD66","#0A8C0A","#66DD66","#0A8C0A","#F7A5AA","#EC2B2B","#F7A5AA","#EC2B2B"]}},
           "fill": {"field": "g", "type": "nominal", "legend": null, "scale": {"domain": [1,2,3,4,5,6,7,8,9,10,11,12,13,14,15,16], "range": ["#5FAAD5","transparent","#5FAAD5","transparent","#F6A34A","transparent","#F6A34A","transparent","#66DD66","#0A8C0A","#66DD66","#0A8C0A","#F7A5AA","#EC2B2B","#F7A5AA","#EC2B2B"]}},
           "shape": {"field": "g", "type": "nominal", "legend": null, "scale": {"domain": [1,2,3,4,5,6,7,8,9,10,11,12,13,14,15,16], "range": ["square","circle","square","square","square","circle","square","circle","circle","square","circle","square","cross","circle","cross","square"]}}}},
        {"data": {"name": "expr"}, "transform": [{"filter": "datum.p == 'Ppargc1a'"}, {"flatten": ["v"]}], "mark": "tick",
         "encoding": {"x": {"field": "g", "type": "quantitative", "title": null, "axis": {"values": [1,2,3,4,5,6,7,8,9,10,11,12,13,14,15,16], "labelExpr": "datum.value % 2 == 1 ? 'flox' : (datum.value < 9 ? 'KO' : 'OE')"}}, "y": {"field": "v", "type": "quantitative", "aggregate": "mean", "title": ["Gene expression in WAT", "(arbitrary unit)"], "axis": {"values": [-3, -2, -1, 0, 1, 2, 3], "format": "d"}}}},
        {"data": {"name": "sig"}, "transform": [{"filter": "datum.p == 'Ppargc1a'"}], "mark": "rule",
         "encoding": {"x": {"field": "a", "type": "quantitative", "title": null, "axis": {"values": [1,2,3,4,5,6,7,8,9,10,11,12,13,14,15,16], "labelExpr": "datum.value % 2 == 1 ? 'flox' : (datum.value < 9 ? 'KO' : 'OE')"}}, "x2": {"field": "b"}, "y": {"field": "y", "type": "quantitative", "title": ["Gene expression in WAT", "(arbitrary unit)"], "axis": {"values": [-3, -2, -1, 0, 1, 2, 3], "format": "d"}}}},
        {"data": {"name": "sig"}, "transform": [{"filter": "datum.p == 'Ppargc1a'"}, {"calculate": "(datum.a + datum.b) / 2", "as": "xm"}], "mark": "text",
         "encoding": {"x": {"field": "xm", "type": "quantitative", "title": null, "axis": {"values": [1,2,3,4,5,6,7,8,9,10,11,12,13,14,15,16], "labelExpr": "datum.value % 2 == 1 ? 'flox' : (datum.value < 9 ? 'KO' : 'OE')"}}, "y": {"field": "y", "type": "quantitative", "title": ["Gene expression in WAT", "(arbitrary unit)"], "axis": {"values": [-3, -2, -1, 0, 1, 2, 3], "format": "d"}}, "text": {"field": "lab"}}}
      ]},
      {"width": 166, "height": 12.5, "data": {"name": "grp"}, "transform": [{"calculate": "datum.a - 0.4", "as": "x1"}, {"calculate": "datum.b + 0.4", "as": "x2"}, {"calculate": "(datum.a + datum.b) / 2", "as": "xm"}], "layer": [
        {"mark": {"type": "rule", "color": "#000", "strokeWidth": 1}, "encoding": {"x": {"field": "x1", "type": "quantitative", "scale": {"domain": [0.5, 16.5], "nice": false, "zero": false}, "axis": null}, "x2": {"field": "x2"}, "y": {"field": "kind", "type": "nominal", "bandPosition": 0, "scale": {"type": "band", "domain": ["diet", "sex"], "paddingInner": 0, "paddingOuter": 0}, "axis": null}}},
        {"mark": {"type": "text", "fontSize": 5.2, "fontWeight": "bold", "baseline": "middle"}, "encoding": {"x": {"field": "xm", "type": "quantitative"}, "y": {"field": "kind", "type": "nominal", "bandPosition": 0.55}, "text": {"field": "lab"}}}
      ]}
    ]},
    {"spacing": 0, "vconcat": [
      {"width": 166, "height": 68, "title": {"text": "Pex11a"}, "layer": [
        {"data": {"name": "expr"}, "transform": [{"filter": "datum.p == 'Pex11a'"}, {"flatten": ["v"]}, {"window": [{"op": "row_number", "as": "r"}, {"op": "percent_rank", "as": "pr"}], "groupby": ["g"], "sort": [{"field": "v", "order": "descending"}]}, {"calculate": "datum.g + ((((datum.r * 5) % 7) - 3) / 3) * 0.38 * (0.4 + 0.6 * (1 - abs(2 * datum.pr - 1)))", "as": "xj"}], "mark": "point",
         "encoding": {"x": {"field": "xj", "type": "quantitative", "title": null, "scale": {"domain": [0.5, 16.5], "nice": false, "zero": false}, "axis": {"values": [1,2,3,4,5,6,7,8,9,10,11,12,13,14,15,16], "labelExpr": "datum.value % 2 == 1 ? 'flox' : (datum.value < 9 ? 'KO' : 'OE')"}},
           "y": {"field": "v", "type": "quantitative", "title": ["Gene expression in WAT", "(arbitrary unit)"], "scale": {"domain": [-1.5, 1.5], "nice": false, "zero": false}, "axis": {"values": [-1.5, -1, -0.5, 0, 0.5, 1, 1.5], "format": ".1f"}},
           "stroke": {"field": "g", "type": "nominal", "legend": null, "scale": {"domain": [1,2,3,4,5,6,7,8,9,10,11,12,13,14,15,16], "range": ["#5FAAD5","#3A3AD6","#5FAAD5","#3A3AD6","#F6A34A","#EE2A2A","#F6A34A","#EE2A2A","#66DD66","#0A8C0A","#66DD66","#0A8C0A","#F7A5AA","#EC2B2B","#F7A5AA","#EC2B2B"]}},
           "fill": {"field": "g", "type": "nominal", "legend": null, "scale": {"domain": [1,2,3,4,5,6,7,8,9,10,11,12,13,14,15,16], "range": ["#5FAAD5","transparent","#5FAAD5","transparent","#F6A34A","transparent","#F6A34A","transparent","#66DD66","#0A8C0A","#66DD66","#0A8C0A","#F7A5AA","#EC2B2B","#F7A5AA","#EC2B2B"]}},
           "shape": {"field": "g", "type": "nominal", "legend": null, "scale": {"domain": [1,2,3,4,5,6,7,8,9,10,11,12,13,14,15,16], "range": ["square","circle","square","square","square","circle","square","circle","circle","square","circle","square","cross","circle","cross","square"]}}}},
        {"data": {"name": "expr"}, "transform": [{"filter": "datum.p == 'Pex11a'"}, {"flatten": ["v"]}], "mark": "tick",
         "encoding": {"x": {"field": "g", "type": "quantitative", "title": null, "axis": {"values": [1,2,3,4,5,6,7,8,9,10,11,12,13,14,15,16], "labelExpr": "datum.value % 2 == 1 ? 'flox' : (datum.value < 9 ? 'KO' : 'OE')"}}, "y": {"field": "v", "type": "quantitative", "aggregate": "mean", "title": ["Gene expression in WAT", "(arbitrary unit)"], "axis": {"values": [-1.5, -1, -0.5, 0, 0.5, 1, 1.5], "format": ".1f"}}}},
        {"data": {"name": "sig"}, "transform": [{"filter": "datum.p == 'Pex11a'"}], "mark": "rule",
         "encoding": {"x": {"field": "a", "type": "quantitative", "title": null, "axis": {"values": [1,2,3,4,5,6,7,8,9,10,11,12,13,14,15,16], "labelExpr": "datum.value % 2 == 1 ? 'flox' : (datum.value < 9 ? 'KO' : 'OE')"}}, "x2": {"field": "b"}, "y": {"field": "y", "type": "quantitative", "title": ["Gene expression in WAT", "(arbitrary unit)"], "axis": {"values": [-1.5, -1, -0.5, 0, 0.5, 1, 1.5], "format": ".1f"}}}},
        {"data": {"name": "sig"}, "transform": [{"filter": "datum.p == 'Pex11a'"}, {"calculate": "(datum.a + datum.b) / 2", "as": "xm"}], "mark": "text",
         "encoding": {"x": {"field": "xm", "type": "quantitative", "title": null, "axis": {"values": [1,2,3,4,5,6,7,8,9,10,11,12,13,14,15,16], "labelExpr": "datum.value % 2 == 1 ? 'flox' : (datum.value < 9 ? 'KO' : 'OE')"}}, "y": {"field": "y", "type": "quantitative", "title": ["Gene expression in WAT", "(arbitrary unit)"], "axis": {"values": [-1.5, -1, -0.5, 0, 0.5, 1, 1.5], "format": ".1f"}}, "text": {"field": "lab"}}}
      ]},
      {"width": 166, "height": 12.5, "data": {"name": "grp"}, "transform": [{"calculate": "datum.a - 0.4", "as": "x1"}, {"calculate": "datum.b + 0.4", "as": "x2"}, {"calculate": "(datum.a + datum.b) / 2", "as": "xm"}], "layer": [
        {"mark": {"type": "rule", "color": "#000", "strokeWidth": 1}, "encoding": {"x": {"field": "x1", "type": "quantitative", "scale": {"domain": [0.5, 16.5], "nice": false, "zero": false}, "axis": null}, "x2": {"field": "x2"}, "y": {"field": "kind", "type": "nominal", "bandPosition": 0, "scale": {"type": "band", "domain": ["diet", "sex"], "paddingInner": 0, "paddingOuter": 0}, "axis": null}}},
        {"mark": {"type": "text", "fontSize": 5.2, "fontWeight": "bold", "baseline": "middle"}, "encoding": {"x": {"field": "xm", "type": "quantitative"}, "y": {"field": "kind", "type": "nominal", "bandPosition": 0.55}, "text": {"field": "lab"}}}
      ]}
    ]},
    {"spacing": 0, "vconcat": [
      {"width": 166, "height": 68, "title": {"text": "Adrb2"}, "layer": [
        {"data": {"name": "expr"}, "transform": [{"filter": "datum.p == 'Adrb2'"}, {"flatten": ["v"]}, {"window": [{"op": "row_number", "as": "r"}, {"op": "percent_rank", "as": "pr"}], "groupby": ["g"], "sort": [{"field": "v", "order": "descending"}]}, {"calculate": "datum.g + ((((datum.r * 5) % 7) - 3) / 3) * 0.38 * (0.4 + 0.6 * (1 - abs(2 * datum.pr - 1)))", "as": "xj"}], "mark": "point",
         "encoding": {"x": {"field": "xj", "type": "quantitative", "title": null, "scale": {"domain": [0.5, 16.5], "nice": false, "zero": false}, "axis": {"values": [1,2,3,4,5,6,7,8,9,10,11,12,13,14,15,16], "labelExpr": "datum.value % 2 == 1 ? 'flox' : (datum.value < 9 ? 'KO' : 'OE')"}},
           "y": {"field": "v", "type": "quantitative", "title": ["Gene expression in WAT", "(arbitrary unit)"], "scale": {"domain": [-3, 3], "nice": false, "zero": false}, "axis": {"values": [-3, -2, -1, 0, 1, 2, 3], "format": "d"}},
           "stroke": {"field": "g", "type": "nominal", "legend": null, "scale": {"domain": [1,2,3,4,5,6,7,8,9,10,11,12,13,14,15,16], "range": ["#5FAAD5","#3A3AD6","#5FAAD5","#3A3AD6","#F6A34A","#EE2A2A","#F6A34A","#EE2A2A","#66DD66","#0A8C0A","#66DD66","#0A8C0A","#F7A5AA","#EC2B2B","#F7A5AA","#EC2B2B"]}},
           "fill": {"field": "g", "type": "nominal", "legend": null, "scale": {"domain": [1,2,3,4,5,6,7,8,9,10,11,12,13,14,15,16], "range": ["#5FAAD5","transparent","#5FAAD5","transparent","#F6A34A","transparent","#F6A34A","transparent","#66DD66","#0A8C0A","#66DD66","#0A8C0A","#F7A5AA","#EC2B2B","#F7A5AA","#EC2B2B"]}},
           "shape": {"field": "g", "type": "nominal", "legend": null, "scale": {"domain": [1,2,3,4,5,6,7,8,9,10,11,12,13,14,15,16], "range": ["square","circle","square","square","square","circle","square","circle","circle","square","circle","square","cross","circle","cross","square"]}}}},
        {"data": {"name": "expr"}, "transform": [{"filter": "datum.p == 'Adrb2'"}, {"flatten": ["v"]}], "mark": "tick",
         "encoding": {"x": {"field": "g", "type": "quantitative", "title": null, "axis": {"values": [1,2,3,4,5,6,7,8,9,10,11,12,13,14,15,16], "labelExpr": "datum.value % 2 == 1 ? 'flox' : (datum.value < 9 ? 'KO' : 'OE')"}}, "y": {"field": "v", "type": "quantitative", "aggregate": "mean", "title": ["Gene expression in WAT", "(arbitrary unit)"], "axis": {"values": [-3, -2, -1, 0, 1, 2, 3], "format": "d"}}}},
        {"data": {"name": "sig"}, "transform": [{"filter": "datum.p == 'Adrb2'"}], "mark": "rule",
         "encoding": {"x": {"field": "a", "type": "quantitative", "title": null, "axis": {"values": [1,2,3,4,5,6,7,8,9,10,11,12,13,14,15,16], "labelExpr": "datum.value % 2 == 1 ? 'flox' : (datum.value < 9 ? 'KO' : 'OE')"}}, "x2": {"field": "b"}, "y": {"field": "y", "type": "quantitative", "title": ["Gene expression in WAT", "(arbitrary unit)"], "axis": {"values": [-3, -2, -1, 0, 1, 2, 3], "format": "d"}}}},
        {"data": {"name": "sig"}, "transform": [{"filter": "datum.p == 'Adrb2'"}, {"calculate": "(datum.a + datum.b) / 2", "as": "xm"}], "mark": "text",
         "encoding": {"x": {"field": "xm", "type": "quantitative", "title": null, "axis": {"values": [1,2,3,4,5,6,7,8,9,10,11,12,13,14,15,16], "labelExpr": "datum.value % 2 == 1 ? 'flox' : (datum.value < 9 ? 'KO' : 'OE')"}}, "y": {"field": "y", "type": "quantitative", "title": ["Gene expression in WAT", "(arbitrary unit)"], "axis": {"values": [-3, -2, -1, 0, 1, 2, 3], "format": "d"}}, "text": {"field": "lab"}}}
      ]},
      {"width": 166, "height": 12.5, "data": {"name": "grp"}, "transform": [{"calculate": "datum.a - 0.4", "as": "x1"}, {"calculate": "datum.b + 0.4", "as": "x2"}, {"calculate": "(datum.a + datum.b) / 2", "as": "xm"}], "layer": [
        {"mark": {"type": "rule", "color": "#000", "strokeWidth": 1}, "encoding": {"x": {"field": "x1", "type": "quantitative", "scale": {"domain": [0.5, 16.5], "nice": false, "zero": false}, "axis": null}, "x2": {"field": "x2"}, "y": {"field": "kind", "type": "nominal", "bandPosition": 0, "scale": {"type": "band", "domain": ["diet", "sex"], "paddingInner": 0, "paddingOuter": 0}, "axis": null}}},
        {"mark": {"type": "text", "fontSize": 5.2, "fontWeight": "bold", "baseline": "middle"}, "encoding": {"x": {"field": "xm", "type": "quantitative"}, "y": {"field": "kind", "type": "nominal", "bandPosition": 0.55}, "text": {"field": "lab"}}}
      ]}
    ]},
    {"spacing": 0, "vconcat": [
      {"width": 166, "height": 68, "title": {"text": "Mrap"}, "layer": [
        {"data": {"name": "expr"}, "transform": [{"filter": "datum.p == 'Mrap'"}, {"flatten": ["v"]}, {"window": [{"op": "row_number", "as": "r"}, {"op": "percent_rank", "as": "pr"}], "groupby": ["g"], "sort": [{"field": "v", "order": "descending"}]}, {"calculate": "datum.g + ((((datum.r * 5) % 7) - 3) / 3) * 0.38 * (0.4 + 0.6 * (1 - abs(2 * datum.pr - 1)))", "as": "xj"}], "mark": "point",
         "encoding": {"x": {"field": "xj", "type": "quantitative", "title": null, "scale": {"domain": [0.5, 16.5], "nice": false, "zero": false}, "axis": {"values": [1,2,3,4,5,6,7,8,9,10,11,12,13,14,15,16], "labelExpr": "datum.value % 2 == 1 ? 'flox' : (datum.value < 9 ? 'KO' : 'OE')"}},
           "y": {"field": "v", "type": "quantitative", "title": ["Gene expression in WAT", "(arbitrary unit)"], "scale": {"domain": [-2, 2], "nice": false, "zero": false}, "axis": {"values": [-2, -1, 0, 1, 2], "format": "d"}},
           "stroke": {"field": "g", "type": "nominal", "legend": null, "scale": {"domain": [1,2,3,4,5,6,7,8,9,10,11,12,13,14,15,16], "range": ["#5FAAD5","#3A3AD6","#5FAAD5","#3A3AD6","#F6A34A","#EE2A2A","#F6A34A","#EE2A2A","#66DD66","#0A8C0A","#66DD66","#0A8C0A","#F7A5AA","#EC2B2B","#F7A5AA","#EC2B2B"]}},
           "fill": {"field": "g", "type": "nominal", "legend": null, "scale": {"domain": [1,2,3,4,5,6,7,8,9,10,11,12,13,14,15,16], "range": ["#5FAAD5","transparent","#5FAAD5","transparent","#F6A34A","transparent","#F6A34A","transparent","#66DD66","#0A8C0A","#66DD66","#0A8C0A","#F7A5AA","#EC2B2B","#F7A5AA","#EC2B2B"]}},
           "shape": {"field": "g", "type": "nominal", "legend": null, "scale": {"domain": [1,2,3,4,5,6,7,8,9,10,11,12,13,14,15,16], "range": ["square","circle","square","square","square","circle","square","circle","circle","square","circle","square","cross","circle","cross","square"]}}}},
        {"data": {"name": "expr"}, "transform": [{"filter": "datum.p == 'Mrap'"}, {"flatten": ["v"]}], "mark": "tick",
         "encoding": {"x": {"field": "g", "type": "quantitative", "title": null, "axis": {"values": [1,2,3,4,5,6,7,8,9,10,11,12,13,14,15,16], "labelExpr": "datum.value % 2 == 1 ? 'flox' : (datum.value < 9 ? 'KO' : 'OE')"}}, "y": {"field": "v", "type": "quantitative", "aggregate": "mean", "title": ["Gene expression in WAT", "(arbitrary unit)"], "axis": {"values": [-2, -1, 0, 1, 2], "format": "d"}}}},
        {"data": {"name": "sig"}, "transform": [{"filter": "datum.p == 'Mrap'"}], "mark": "rule",
         "encoding": {"x": {"field": "a", "type": "quantitative", "title": null, "axis": {"values": [1,2,3,4,5,6,7,8,9,10,11,12,13,14,15,16], "labelExpr": "datum.value % 2 == 1 ? 'flox' : (datum.value < 9 ? 'KO' : 'OE')"}}, "x2": {"field": "b"}, "y": {"field": "y", "type": "quantitative", "title": ["Gene expression in WAT", "(arbitrary unit)"], "axis": {"values": [-2, -1, 0, 1, 2], "format": "d"}}}},
        {"data": {"name": "sig"}, "transform": [{"filter": "datum.p == 'Mrap'"}, {"calculate": "(datum.a + datum.b) / 2", "as": "xm"}], "mark": "text",
         "encoding": {"x": {"field": "xm", "type": "quantitative", "title": null, "axis": {"values": [1,2,3,4,5,6,7,8,9,10,11,12,13,14,15,16], "labelExpr": "datum.value % 2 == 1 ? 'flox' : (datum.value < 9 ? 'KO' : 'OE')"}}, "y": {"field": "y", "type": "quantitative", "title": ["Gene expression in WAT", "(arbitrary unit)"], "axis": {"values": [-2, -1, 0, 1, 2], "format": "d"}}, "text": {"field": "lab"}}}
      ]},
      {"width": 166, "height": 12.5, "data": {"name": "grp"}, "transform": [{"calculate": "datum.a - 0.4", "as": "x1"}, {"calculate": "datum.b + 0.4", "as": "x2"}, {"calculate": "(datum.a + datum.b) / 2", "as": "xm"}], "layer": [
        {"mark": {"type": "rule", "color": "#000", "strokeWidth": 1}, "encoding": {"x": {"field": "x1", "type": "quantitative", "scale": {"domain": [0.5, 16.5], "nice": false, "zero": false}, "axis": null}, "x2": {"field": "x2"}, "y": {"field": "kind", "type": "nominal", "bandPosition": 0, "scale": {"type": "band", "domain": ["diet", "sex"], "paddingInner": 0, "paddingOuter": 0}, "axis": null}}},
        {"mark": {"type": "text", "fontSize": 5.2, "fontWeight": "bold", "baseline": "middle"}, "encoding": {"x": {"field": "xm", "type": "quantitative"}, "y": {"field": "kind", "type": "nominal", "bandPosition": 0.55}, "text": {"field": "lab"}}}
      ]}
    ]},
    {"spacing": 0, "vconcat": [
      {"width": 166, "height": 68, "title": {"text": "Inhbb"}, "layer": [
        {"data": {"name": "expr"}, "transform": [{"filter": "datum.p == 'Inhbb'"}, {"flatten": ["v"]}, {"window": [{"op": "row_number", "as": "r"}, {"op": "percent_rank", "as": "pr"}], "groupby": ["g"], "sort": [{"field": "v", "order": "descending"}]}, {"calculate": "datum.g + ((((datum.r * 5) % 7) - 3) / 3) * 0.38 * (0.4 + 0.6 * (1 - abs(2 * datum.pr - 1)))", "as": "xj"}], "mark": "point",
         "encoding": {"x": {"field": "xj", "type": "quantitative", "title": null, "scale": {"domain": [0.5, 16.5], "nice": false, "zero": false}, "axis": {"values": [1,2,3,4,5,6,7,8,9,10,11,12,13,14,15,16], "labelExpr": "datum.value % 2 == 1 ? 'flox' : (datum.value < 9 ? 'KO' : 'OE')"}},
           "y": {"field": "v", "type": "quantitative", "title": ["Gene expression in WAT", "(arbitrary unit)"], "scale": {"domain": [-3, 2], "nice": false, "zero": false}, "axis": {"values": [-3, -2, -1, 0, 1, 2], "format": "d"}},
           "stroke": {"field": "g", "type": "nominal", "legend": null, "scale": {"domain": [1,2,3,4,5,6,7,8,9,10,11,12,13,14,15,16], "range": ["#5FAAD5","#3A3AD6","#5FAAD5","#3A3AD6","#F6A34A","#EE2A2A","#F6A34A","#EE2A2A","#66DD66","#0A8C0A","#66DD66","#0A8C0A","#F7A5AA","#EC2B2B","#F7A5AA","#EC2B2B"]}},
           "fill": {"field": "g", "type": "nominal", "legend": null, "scale": {"domain": [1,2,3,4,5,6,7,8,9,10,11,12,13,14,15,16], "range": ["#5FAAD5","transparent","#5FAAD5","transparent","#F6A34A","transparent","#F6A34A","transparent","#66DD66","#0A8C0A","#66DD66","#0A8C0A","#F7A5AA","#EC2B2B","#F7A5AA","#EC2B2B"]}},
           "shape": {"field": "g", "type": "nominal", "legend": null, "scale": {"domain": [1,2,3,4,5,6,7,8,9,10,11,12,13,14,15,16], "range": ["square","circle","square","square","square","circle","square","circle","circle","square","circle","square","cross","circle","cross","square"]}}}},
        {"data": {"name": "expr"}, "transform": [{"filter": "datum.p == 'Inhbb'"}, {"flatten": ["v"]}], "mark": "tick",
         "encoding": {"x": {"field": "g", "type": "quantitative", "title": null, "axis": {"values": [1,2,3,4,5,6,7,8,9,10,11,12,13,14,15,16], "labelExpr": "datum.value % 2 == 1 ? 'flox' : (datum.value < 9 ? 'KO' : 'OE')"}}, "y": {"field": "v", "type": "quantitative", "aggregate": "mean", "title": ["Gene expression in WAT", "(arbitrary unit)"], "axis": {"values": [-3, -2, -1, 0, 1, 2], "format": "d"}}}}
      ]},
      {"width": 166, "height": 12.5, "data": {"name": "grp"}, "transform": [{"calculate": "datum.a - 0.4", "as": "x1"}, {"calculate": "datum.b + 0.4", "as": "x2"}, {"calculate": "(datum.a + datum.b) / 2", "as": "xm"}], "layer": [
        {"mark": {"type": "rule", "color": "#000", "strokeWidth": 1}, "encoding": {"x": {"field": "x1", "type": "quantitative", "scale": {"domain": [0.5, 16.5], "nice": false, "zero": false}, "axis": null}, "x2": {"field": "x2"}, "y": {"field": "kind", "type": "nominal", "bandPosition": 0, "scale": {"type": "band", "domain": ["diet", "sex"], "paddingInner": 0, "paddingOuter": 0}, "axis": null}}},
        {"mark": {"type": "text", "fontSize": 5.2, "fontWeight": "bold", "baseline": "middle"}, "encoding": {"x": {"field": "xm", "type": "quantitative"}, "y": {"field": "kind", "type": "nominal", "bandPosition": 0.55}, "text": {"field": "lab"}}}
      ]}
    ]},
    {"spacing": 0, "vconcat": [
      {"width": 166, "height": 68, "title": {"text": "Egr2"}, "layer": [
        {"data": {"name": "expr"}, "transform": [{"filter": "datum.p == 'Egr2'"}, {"flatten": ["v"]}, {"window": [{"op": "row_number", "as": "r"}, {"op": "percent_rank", "as": "pr"}], "groupby": ["g"], "sort": [{"field": "v", "order": "descending"}]}, {"calculate": "datum.g + ((((datum.r * 5) % 7) - 3) / 3) * 0.38 * (0.4 + 0.6 * (1 - abs(2 * datum.pr - 1)))", "as": "xj"}], "mark": "point",
         "encoding": {"x": {"field": "xj", "type": "quantitative", "title": null, "scale": {"domain": [0.5, 16.5], "nice": false, "zero": false}, "axis": {"values": [1,2,3,4,5,6,7,8,9,10,11,12,13,14,15,16], "labelExpr": "datum.value % 2 == 1 ? 'flox' : (datum.value < 9 ? 'KO' : 'OE')"}},
           "y": {"field": "v", "type": "quantitative", "title": ["Gene expression in WAT", "(arbitrary unit)"], "scale": {"domain": [-3, 3], "nice": false, "zero": false}, "axis": {"values": [-3, -2, -1, 0, 1, 2, 3], "format": "d"}},
           "stroke": {"field": "g", "type": "nominal", "legend": null, "scale": {"domain": [1,2,3,4,5,6,7,8,9,10,11,12,13,14,15,16], "range": ["#5FAAD5","#3A3AD6","#5FAAD5","#3A3AD6","#F6A34A","#EE2A2A","#F6A34A","#EE2A2A","#66DD66","#0A8C0A","#66DD66","#0A8C0A","#F7A5AA","#EC2B2B","#F7A5AA","#EC2B2B"]}},
           "fill": {"field": "g", "type": "nominal", "legend": null, "scale": {"domain": [1,2,3,4,5,6,7,8,9,10,11,12,13,14,15,16], "range": ["#5FAAD5","transparent","#5FAAD5","transparent","#F6A34A","transparent","#F6A34A","transparent","#66DD66","#0A8C0A","#66DD66","#0A8C0A","#F7A5AA","#EC2B2B","#F7A5AA","#EC2B2B"]}},
           "shape": {"field": "g", "type": "nominal", "legend": null, "scale": {"domain": [1,2,3,4,5,6,7,8,9,10,11,12,13,14,15,16], "range": ["square","circle","square","square","square","circle","square","circle","circle","square","circle","square","cross","circle","cross","square"]}}}},
        {"data": {"name": "expr"}, "transform": [{"filter": "datum.p == 'Egr2'"}, {"flatten": ["v"]}], "mark": "tick",
         "encoding": {"x": {"field": "g", "type": "quantitative", "title": null, "axis": {"values": [1,2,3,4,5,6,7,8,9,10,11,12,13,14,15,16], "labelExpr": "datum.value % 2 == 1 ? 'flox' : (datum.value < 9 ? 'KO' : 'OE')"}}, "y": {"field": "v", "type": "quantitative", "aggregate": "mean", "title": ["Gene expression in WAT", "(arbitrary unit)"], "axis": {"values": [-3, -2, -1, 0, 1, 2, 3], "format": "d"}}}}
      ]},
      {"width": 166, "height": 12.5, "data": {"name": "grp"}, "transform": [{"calculate": "datum.a - 0.4", "as": "x1"}, {"calculate": "datum.b + 0.4", "as": "x2"}, {"calculate": "(datum.a + datum.b) / 2", "as": "xm"}], "layer": [
        {"mark": {"type": "rule", "color": "#000", "strokeWidth": 1}, "encoding": {"x": {"field": "x1", "type": "quantitative", "scale": {"domain": [0.5, 16.5], "nice": false, "zero": false}, "axis": null}, "x2": {"field": "x2"}, "y": {"field": "kind", "type": "nominal", "bandPosition": 0, "scale": {"type": "band", "domain": ["diet", "sex"], "paddingInner": 0, "paddingOuter": 0}, "axis": null}}},
        {"mark": {"type": "text", "fontSize": 5.2, "fontWeight": "bold", "baseline": "middle"}, "encoding": {"x": {"field": "xm", "type": "quantitative"}, "y": {"field": "kind", "type": "nominal", "bandPosition": 0.55}, "text": {"field": "lab"}}}
      ]}
    ]}
  ]
}
